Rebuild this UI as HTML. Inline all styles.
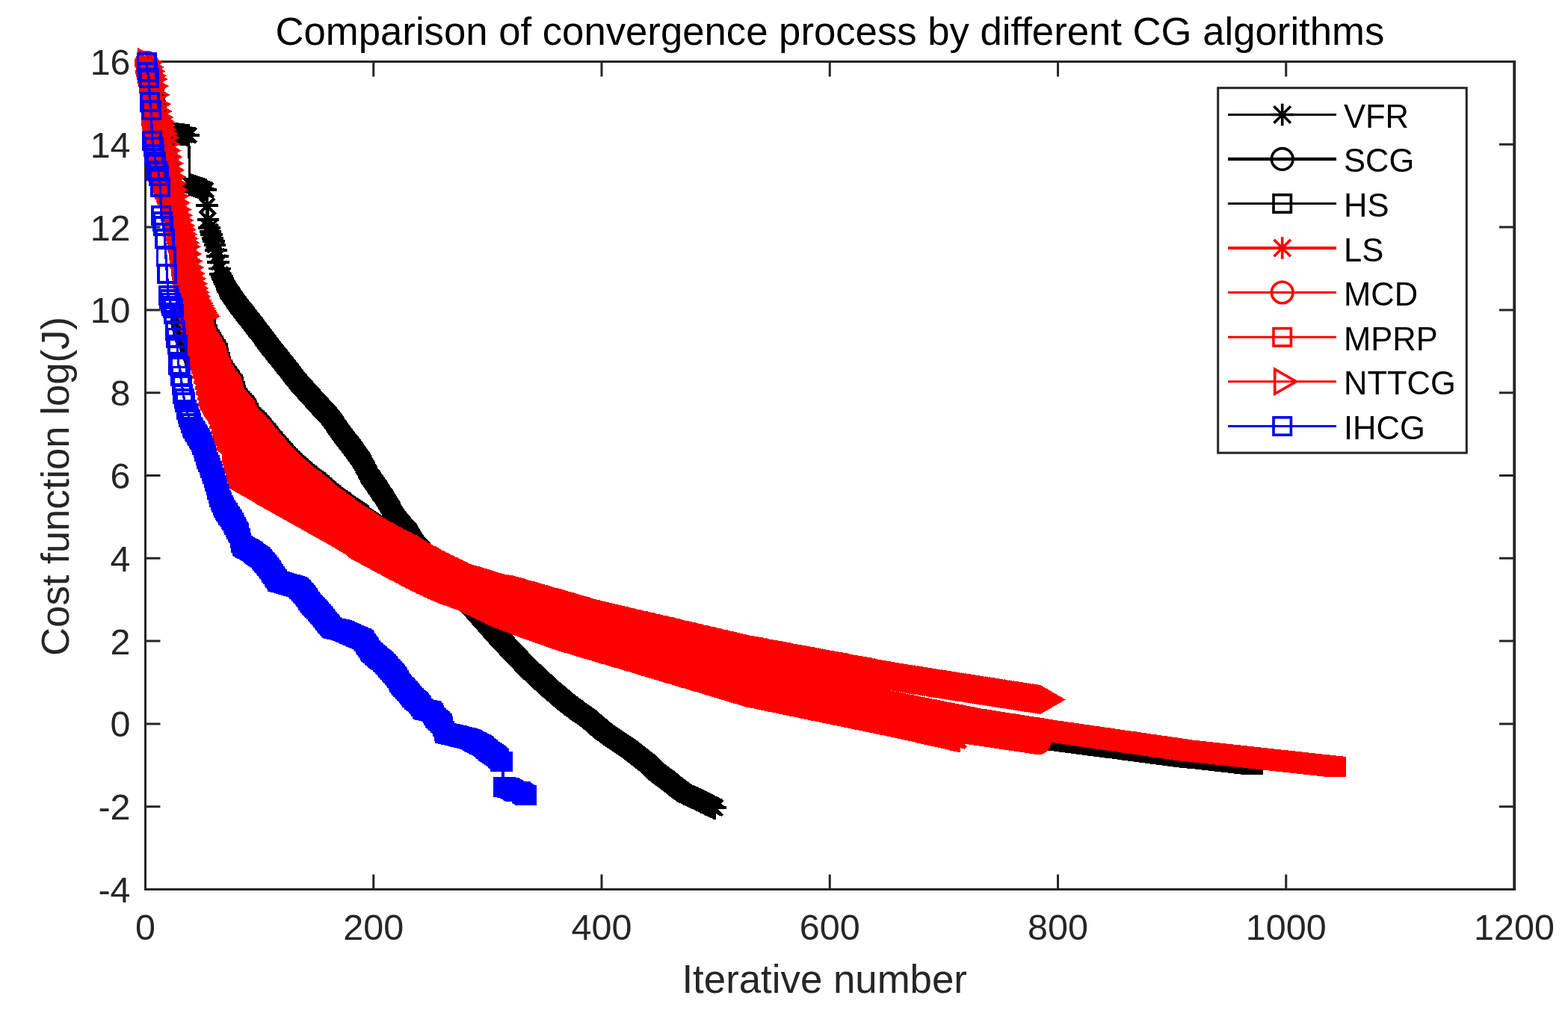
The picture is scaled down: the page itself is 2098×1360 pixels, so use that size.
<!DOCTYPE html>
<html lang="en"><head><meta charset="utf-8"><title>Comparison of convergence process by different CG algorithms</title>
<style>html,body{margin:0;padding:0;background:#fff;overflow:hidden}svg{display:block}text{font-family:"Liberation Sans",sans-serif}</style>
</head><body>
<svg width="2098" height="1360" viewBox="0 0 2098 1360">
<rect width="2098" height="1360" fill="#fff"/>
<g stroke="#262626" stroke-width="3" fill="none" stroke-linecap="butt">
<rect x="194.5" y="82.5" width="1831.5" height="1108.0"/>
<path d="M499.75 1190.5v-20M499.75 82.5v20M805.0 1190.5v-20M805.0 82.5v20M1110.25 1190.5v-20M1110.25 82.5v20M1415.5 1190.5v-20M1415.5 82.5v20M1720.75 1190.5v-20M1720.75 82.5v20M194.5 1079.7h20M2026.0 1079.7h-20M194.5 968.9h20M2026.0 968.9h-20M194.5 858.1h20M2026.0 858.1h-20M194.5 747.3h20M2026.0 747.3h-20M194.5 636.5h20M2026.0 636.5h-20M194.5 525.7h20M2026.0 525.7h-20M194.5 414.9h20M2026.0 414.9h-20M194.5 304.1h20M2026.0 304.1h-20M194.5 193.3h20M2026.0 193.3h-20"/>
<path d="M2026.4 81.0V1192.0" stroke-width="3.6"/>
</g>
<defs>
<marker id="mVFR" markerUnits="userSpaceOnUse" markerWidth="60" markerHeight="60" viewBox="-30 -30 60 60" refX="0" refY="0" orient="0" overflow="visible" shape-rendering="crispEdges"><path d="M-14.8 0H14.8M0 -14.8V14.8M-9.834999999999999 -9.834999999999999L9.834999999999999 9.834999999999999M-9.834999999999999 9.834999999999999L9.834999999999999 -9.834999999999999" stroke="#000" stroke-width="3.9" fill="none"/></marker>
<marker id="mVFRb" markerUnits="userSpaceOnUse" markerWidth="60" markerHeight="60" viewBox="-30 -30 60 60" refX="0" refY="0" orient="0" overflow="visible" shape-rendering="crispEdges"><path d="M-15.700000000000001 0H15.700000000000001M0 -15.700000000000001V15.700000000000001M-10.735 -10.735L10.735 10.735M-10.735 10.735L10.735 -10.735" stroke="#000" stroke-width="3.9" fill="none"/></marker>
<marker id="mSCG" markerUnits="userSpaceOnUse" markerWidth="60" markerHeight="60" viewBox="-30 -30 60 60" refX="0" refY="0" orient="0" overflow="visible" shape-rendering="crispEdges"><circle r="13.95" stroke="#000" stroke-width="4.6" fill="none"/></marker>
<marker id="mHS" markerUnits="userSpaceOnUse" markerWidth="60" markerHeight="60" viewBox="-30 -30 60 60" refX="0" refY="0" orient="0" overflow="visible" shape-rendering="crispEdges"><rect x="-11.55" y="-11.55" width="23.1" height="23.1" stroke="#000" stroke-width="3.9" fill="none"/></marker>
<marker id="mLS" markerUnits="userSpaceOnUse" markerWidth="60" markerHeight="60" viewBox="-30 -30 60 60" refX="0" refY="0" orient="0" overflow="visible" shape-rendering="crispEdges"><path d="M-14.8 0H14.8M0 -14.8V14.8M-9.695 -9.695L9.695 9.695M-9.695 9.695L9.695 -9.695" stroke="#f00" stroke-width="4.3" fill="none"/></marker>
<marker id="mMCD" markerUnits="userSpaceOnUse" markerWidth="60" markerHeight="60" viewBox="-30 -30 60 60" refX="0" refY="0" orient="0" overflow="visible" shape-rendering="crispEdges"><circle r="14.3" stroke="#f00" stroke-width="3.9" fill="none"/></marker>
<marker id="mMPRP" markerUnits="userSpaceOnUse" markerWidth="60" markerHeight="60" viewBox="-30 -30 60 60" refX="0" refY="0" orient="0" overflow="visible" shape-rendering="crispEdges"><rect x="-11.55" y="-11.55" width="23.1" height="23.1" stroke="#f00" stroke-width="3.9" fill="none"/></marker>
<marker id="mNT" markerUnits="userSpaceOnUse" markerWidth="60" markerHeight="60" viewBox="-30 -30 60 60" refX="0" refY="0" orient="0" overflow="visible" shape-rendering="crispEdges"><path d="M-10 -16.5L18.6 0L-10 16.5Z" stroke="#f00" stroke-width="3.9" fill="none"/></marker>
<marker id="mIH" markerUnits="userSpaceOnUse" markerWidth="60" markerHeight="60" viewBox="-30 -30 60 60" refX="0" refY="0" orient="0" overflow="visible" shape-rendering="crispEdges"><rect x="-11.55" y="-11.55" width="23.1" height="23.1" stroke="#00f" stroke-width="3.9" fill="none"/></marker>
</defs>
<g shape-rendering="crispEdges">
<polyline points="196.0,83.5 197.6,89.5 199.1,95.4 200.6,100.7 202.1,106.0 203.7,116.5 205.2,127.0 206.7,138.0 208.2,149.0 209.8,157.1 211.3,162.7 212.8,168.4 214.3,174.0 215.9,178.0 217.4,178.1 218.9,178.1 220.4,178.2 222.0,178.2 223.5,178.2 225.0,178.3 226.6,178.3 228.1,178.4 229.6,178.4 231.1,178.5 232.7,178.7 234.2,178.9 235.7,179.0 237.2,179.2 238.8,179.4 240.3,179.6 241.8,179.8 243.3,179.9 244.9,180.1 246.4,180.3 247.9,180.5 249.4,180.6 251.0,180.8 252.5,181.0 254.0,246.9 255.6,247.4 257.1,247.9 258.6,248.4 260.1,249.0 261.7,249.5 263.2,250.0 264.7,250.5 266.2,251.0 267.8,251.5 269.3,252.0 270.8,252.6 272.3,253.1 273.9,253.6 275.4,254.1 276.9,275.4 278.4,294.0 280.0,305.0 281.5,309.8 283.0,314.4 284.5,318.9 286.1,323.4 287.6,328.0 289.1,334.6 290.7,342.8 292.2,351.4 293.7,359.5 295.2,367.2 296.8,370.0 298.3,373.3 299.8,376.7 301.3,380.1 302.9,383.5 304.4,386.9" fill="none" stroke="#000" stroke-width="3.4" stroke-linejoin="round" marker-start="url(#mVFR)" marker-mid="url(#mVFR)" marker-end="url(#mVFR)"/>
<polyline points="304.4,386.9 305.9,389.7 307.4,391.9 309.0,394.1 310.5,396.3 312.0,398.5 313.5,400.7 315.1,402.9 316.6,405.1 318.1,407.3 319.7,409.3 321.2,411.2 322.7,413.2 324.2,415.1 325.8,417.1 327.3,419.1 328.8,421.0 330.3,423.0 331.9,424.9 333.4,426.9 334.9,428.9 336.4,430.8 338.0,432.8 339.5,434.8 341.0,436.7 342.5,438.7 344.1,440.7 345.6,442.6 347.1,444.6 348.7,446.6 350.2,448.7 351.7,450.7 353.2,452.8 354.8,454.8 356.3,456.9 357.8,458.9 359.3,461.0 360.9,463.0 362.4,465.0 363.9,467.0 365.4,468.9 367.0,470.8 368.5,472.7 370.0,474.6 371.5,476.5 373.1,478.4 374.6,480.3 376.1,482.2 377.6,484.1 379.2,486.1 380.7,488.0 382.2,489.9 383.8,491.9 385.3,493.8 386.8,495.8 388.3,497.7 389.9,499.7 391.4,501.6 392.9,503.6 394.4,505.5 396.0,507.5 397.5,509.4 399.0,511.4 400.5,513.3 402.1,515.0 403.6,516.7 405.1,518.3 406.6,520.0 408.2,521.7 409.7,523.3 411.2,525.0 412.8,526.7 414.3,528.4 415.8,530.0 417.3,531.7 418.9,533.4 420.4,535.0 421.9,536.7 423.4,538.4 425.0,540.0 426.5,541.7 428.0,543.4 429.5,545.1 431.1,546.7 432.6,548.4 434.1,550.1 435.6,551.7 437.2,553.4 438.7,555.1 440.2,556.7 441.8,558.4 443.3,560.1 444.8,562.4 446.3,564.7 447.9,566.9 449.4,569.2 450.9,571.5 452.4,573.8 454.0,576.1 455.5,578.3 457.0,580.4 458.5,582.4 460.1,584.3 461.6,586.3 463.1,588.2 464.6,590.2 466.2,592.1 467.7,594.1 469.2,596.1 470.8,598.0 472.3,600.1 473.8,602.2 475.3,604.4 476.9,606.5 478.4,608.6 479.9,610.7 481.4,612.9 483.0,615.0 484.5,617.1 486.0,620.0 487.5,623.1 489.1,626.2 490.6,629.2 492.1,632.3 493.6,635.4 495.2,637.9 496.7,640.1 498.2,642.2 499.8,644.4 501.3,646.6 502.8,648.8 504.3,650.9 505.9,653.1 507.4,655.3 508.9,657.7 510.4,660.1 512.0,662.5 513.5,664.9 515.0,667.3 516.5,669.7 518.1,672.1 519.6,674.5 521.1,677.2 522.6,679.9 524.2,682.5 525.7,685.2 527.2,687.9 528.7,690.6 530.3,693.2 531.8,695.2 533.3,696.9 534.9,698.7 536.4,700.4 537.9,702.1 539.4,703.9 541.0,705.6 542.5,707.4 544.0,709.1 545.5,710.9 547.1,712.6 548.6,715.1 550.1,717.8 551.6,720.4 553.2,723.1 554.7,725.8 556.2,727.7 557.7,729.4 559.3,731.1 560.8,732.8 562.3,734.6 563.9,736.3 565.4,738.0 566.9,739.7 568.4,741.5 570.0,743.2 571.5,744.9 573.0,746.6 574.5,748.3 576.1,750.1 577.6,751.8 579.1,753.5 580.6,755.2 582.2,757.0 583.7,758.7 585.2,760.4 586.7,762.1 588.3,763.8 589.8,765.6 591.3,767.3 592.9,769.0 594.4,770.7 595.9,772.5 597.4,774.2 599.0,775.9 600.5,777.6 602.0,779.3 603.5,781.1 605.1,782.8 606.6,784.5 608.1,786.2 609.6,787.9 611.2,789.7 612.7,791.4 614.2,793.1 615.7,794.8 617.3,796.6 618.8,798.3 620.3,800.0 621.9,801.7 623.4,803.4 624.9,805.2 626.4,806.9 628.0,808.6 629.5,810.3 631.0,812.1 632.5,813.8 634.1,815.5 635.6,817.2 637.1,818.9 638.6,820.7 640.2,822.4 641.7,824.1 643.2,825.8 644.7,827.6 646.3,829.3 647.8,831.0 649.3,832.7 650.8,834.4 652.4,836.2 653.9,837.9 655.4,839.6 657.0,841.3 658.5,843.1 660.0,844.8 661.5,846.5 663.1,848.2 664.6,849.9 666.1,851.7 667.6,853.4 669.2,855.1 670.7,856.7 672.2,858.4 673.7,860.0 675.3,861.6 676.8,863.2 678.3,864.8 679.8,866.4 681.4,868.0 682.9,869.6 684.4,871.2 686.0,872.8 687.5,874.4 689.0,876.0 690.5,877.6 692.1,879.2 693.6,880.8 695.1,882.4 696.6,884.1 698.2,885.7 699.7,887.3 701.2,888.9 702.7,890.5 704.3,892.1 705.8,893.7 707.3,895.1 708.8,896.5 710.4,898.0 711.9,899.4 713.4,900.8 715.0,902.2 716.5,903.7 718.0,905.1 719.5,906.5 721.1,907.9 722.6,909.3 724.1,910.8 725.6,912.2 727.2,913.6 728.7,915.0 730.2,916.4 731.7,917.9 733.3,919.3 734.8,920.7 736.3,922.0 737.8,923.3 739.4,924.6 740.9,925.9 742.4,927.2 744.0,928.5 745.5,929.8 747.0,931.1 748.5,932.4 750.1,933.7 751.6,935.0 753.1,936.3 754.6,937.6 756.2,938.9 757.7,940.2 759.2,941.4 760.7,942.5 762.3,943.7 763.8,944.8 765.3,945.9 766.8,947.0 768.4,948.2 769.9,949.3 771.4,950.4 772.9,951.5 774.5,952.6 776.0,953.7 777.5,954.8 779.1,955.9 780.6,956.9 782.1,958.0 783.6,959.1 785.2,960.2 786.7,961.3 788.2,962.4 789.7,963.6 791.3,964.9 792.8,966.3 794.3,967.6 795.8,968.9 797.4,970.3 798.9,971.6 800.4,973.0 801.9,974.3 803.5,975.6 805.0,977.0 806.5,978.3 808.1,979.5 809.6,980.5 811.1,981.6 812.6,982.7 814.2,983.7 815.7,984.8 817.2,985.9 818.7,986.9 820.3,988.0 821.8,989.1 823.3,990.1 824.8,991.1 826.4,992.1 827.9,993.2 829.4,994.2 830.9,995.2 832.5,996.2 834.0,997.2 835.5,998.2 837.1,999.2 838.6,1000.3 840.1,1001.3 841.6,1002.3 843.2,1003.4 844.7,1004.6 846.2,1005.8 847.7,1007.0 849.3,1008.2 850.8,1009.4 852.3,1010.6 853.8,1011.8 855.4,1013.0 856.9,1014.2 858.4,1015.4 859.9,1016.6 861.5,1017.8 863.0,1019.0 864.5,1020.2 866.1,1021.4 867.6,1022.7 869.1,1024.3 870.6,1025.9 872.2,1027.5 873.7,1029.1 875.2,1030.7 876.7,1032.0 878.3,1033.2 879.8,1034.3 881.3,1035.4 882.8,1036.6 884.4,1037.7 885.9,1038.9 887.4,1040.0 888.9,1041.1 890.5,1042.3 892.0,1043.4 893.5,1044.6 895.0,1045.8 896.6,1047.0 898.1,1048.2 899.6,1049.5 901.2,1050.7 902.7,1051.9 904.2,1053.1 905.7,1054.3 907.3,1055.4 908.8,1056.5 910.3,1057.7 911.8,1058.8 913.4,1059.9 914.9,1061.1 916.4,1062.0 917.9,1062.7 919.5,1063.4 921.0,1064.1 922.5,1064.9 924.0,1065.6 925.6,1066.3 927.1,1067.0 928.6,1067.7 930.2,1068.4 931.7,1069.1 933.2,1069.8 934.7,1070.5 936.3,1071.2 937.8,1071.9 939.3,1072.7 940.8,1073.5 942.4,1074.2 943.9,1075.0 945.4,1075.8 946.9,1076.6 948.5,1077.4 950.0,1078.2 951.5,1078.9 953.0,1079.7 954.6,1080.5 956.1,1081.3" fill="none" stroke="#000" stroke-width="3.4" stroke-linejoin="round" marker-start="url(#mVFRb)" marker-mid="url(#mVFRb)" marker-end="url(#mVFRb)"/>
<polyline points="196.0,84.0 197.6,96.0 199.1,102.8 200.6,110.2 202.1,121.0 203.7,142.5 205.2,160.0 206.7,165.8 208.2,171.7 209.8,177.5 211.3,183.0 212.8,188.5 214.3,194.0 215.9,199.5 217.4,205.0 218.9,212.0 220.4,218.9 222.0,225.9 223.5,232.8 225.0,239.8 226.6,247.3 228.1,254.9 229.6,262.8 231.1,270.6 232.7,278.5 234.2,287.0 235.7,296.2 237.2,305.5 238.8,314.6 240.3,323.5 241.8,332.4 243.3,341.3 244.9,349.7 246.4,357.3 247.9,365.0 249.4,372.7 251.0,380.3 252.5,388.0 254.0,395.7 255.6,402.1 257.1,407.2 258.6,412.2 260.1,417.3 261.7,422.4 263.2,427.5 264.7,431.4 266.2,435.3 267.8,439.2 269.3,443.2 270.8,447.1 272.3,451.0 273.9,459.4 275.4,465.5 276.9,470.7 278.4,474.7 280.0,478.8 281.5,482.9 283.0,486.9 284.5,491.0 286.1,495.0 287.6,498.5 289.1,502.1 290.7,507.0 292.2,512.3 293.7,517.5 295.2,522.0 296.8,525.3 298.3,528.7 299.8,532.0 301.3,535.4 302.9,538.7 304.4,542.1 305.9,545.4 307.4,548.8 309.0,552.1 310.5,556.0 312.0,561.1 313.5,566.1 315.1,570.3 316.6,573.4 318.1,575.8 319.7,578.1 321.2,580.4 322.7,582.8 324.2,585.1 325.8,587.5 327.3,589.8 328.8,592.8 330.3,596.1 331.9,599.4 333.4,601.2 334.9,602.8 336.4,604.4 338.0,606.0 339.5,607.6 341.0,609.2 342.5,610.8 344.1,612.4 345.6,614.1 347.1,615.8 348.7,617.6 350.2,619.3 351.7,620.7 353.2,622.0 354.8,623.4 356.3,624.7 357.8,626.1 359.3,627.4 360.9,628.8 362.4,630.1 363.9,631.4 365.4,632.8 367.0,634.1 368.5,635.4 370.0,636.8 371.5,638.1 373.1,639.4 374.6,640.8 376.1,642.0 377.6,643.2 379.2,644.4 380.7,645.5 382.2,646.7 383.8,647.9 385.3,649.1 386.8,650.3 388.3,651.5 389.9,652.7 391.4,653.9 392.9,655.0 394.4,656.1 396.0,657.2 397.5,658.3 399.0,659.4 400.5,660.5 402.1,661.6 403.6,662.8 405.1,663.9 406.6,664.9 408.2,665.9 409.7,666.9 411.2,667.8 412.8,668.8 414.3,669.8 415.8,670.8 417.3,671.8 418.9,672.8 420.4,673.7 421.9,674.7 423.4,675.9 425.0,677.0 426.5,678.1 428.0,679.2 429.5,680.3 431.1,681.5 432.6,682.6 434.1,683.7 435.6,684.8 437.2,685.9 438.7,686.9 440.2,687.9 441.8,688.9 443.3,689.8 444.8,690.8 446.3,691.8 447.9,692.8 449.4,693.8 450.9,694.8 452.4,695.8 454.0,696.8 455.5,697.9 457.0,698.9 458.5,699.9 460.1,700.9 461.6,701.9 463.1,703.0 464.6,704.0 466.2,705.0 467.7,705.9 469.2,706.9 470.8,707.9 472.3,708.8 473.8,709.8 475.3,710.7 476.9,711.7 478.4,712.7 479.9,713.6 481.4,714.6 483.0,715.6 484.5,716.6 486.0,717.5 487.5,718.5 489.1,719.5 490.6,720.4 492.1,721.4 493.6,722.4 495.2,723.3 496.7,724.2 498.2,725.0 499.8,725.9 501.3,726.7 502.8,727.6 504.3,728.4 505.9,729.2 507.4,730.0 508.9,730.8 510.4,731.6 512.0,732.4 513.5,733.2 515.0,734.1 516.5,734.9 518.1,735.7 519.6,736.5 521.1,737.3 522.6,738.1 524.2,738.9 525.7,739.7 527.2,740.4 528.7,741.2 530.3,741.9 531.8,742.7 533.3,743.5 534.9,744.2 536.4,745.0 537.9,745.8 539.4,746.5 541.0,747.3 542.5,748.1 544.0,748.9 545.5,749.8 547.1,750.6 548.6,751.5 550.1,752.3 551.6,753.1 553.2,753.9 554.7,754.7 556.2,755.4 557.7,756.2 559.3,757.0 560.8,757.8 562.3,758.6 563.9,759.3 565.4,760.1 566.9,760.8 568.4,761.6 570.0,762.4 571.5,763.1 573.0,763.9 574.5,764.6 576.1,765.4 577.6,766.2 579.1,766.9 580.6,767.7 582.2,768.4 583.7,769.1 585.2,769.8 586.7,770.5 588.3,771.2 589.8,771.9 591.3,772.7 592.9,773.4 594.4,774.1 595.9,774.8 597.4,775.5 599.0,776.2 600.5,776.9 602.0,777.6 603.5,778.3 605.1,779.0 606.6,779.7 608.1,780.4 609.6,781.1 611.2,781.8 612.7,782.5 614.2,783.2 615.7,783.8 617.3,784.5 618.8,785.0 620.3,785.5 621.9,786.1 623.4,786.6 624.9,787.1 626.4,787.7 628.0,788.2 629.5,788.7 631.0,789.3 632.5,789.8 634.1,790.3 635.6,790.9 637.1,791.5 638.6,792.0 640.2,792.6 641.7,793.1 643.2,793.7 644.7,794.2 646.3,794.8 647.8,795.4 649.3,795.9 650.8,796.5 652.4,797.0 653.9,797.6 655.4,798.1 657.0,798.7 658.5,799.3 660.0,799.8 661.5,800.3 663.1,800.8 664.6,801.3 666.1,801.8 667.6,802.4 669.2,802.9 670.7,803.4 672.2,803.9 673.7,804.4 675.3,804.9 676.8,805.4 678.3,805.9 679.8,806.4 681.4,806.9 682.9,807.4 684.4,808.0 686.0,808.5 687.5,809.0 689.0,809.5 690.5,810.0 692.1,810.5 693.6,811.0 695.1,811.5 696.6,812.0 698.2,812.5 699.7,813.0 701.2,813.6 702.7,814.1 704.3,814.6 705.8,815.2 707.3,815.7 708.8,816.3 710.4,816.8 711.9,817.3 713.4,817.9 715.0,818.4 716.5,819.0 718.0,819.5 719.5,820.0 721.1,820.6 722.6,821.1 724.1,821.7 725.6,822.2 727.2,822.7 728.7,823.3 730.2,823.8 731.7,824.4 733.3,824.9 734.8,825.4 736.3,826.0 737.8,826.5 739.4,827.1 740.9,827.6 742.4,828.1 744.0,828.7 745.5,829.2 747.0,829.7 748.5,830.2 750.1,830.7 751.6,831.2 753.1,831.7 754.6,832.2 756.2,832.7 757.7,833.2 759.2,833.6 760.7,834.1 762.3,834.6 763.8,835.1 765.3,835.6 766.8,836.1 768.4,836.6 769.9,837.1 771.4,837.6 772.9,838.1 774.5,838.6 776.0,839.1 777.5,839.6 779.1,840.1 780.6,840.6 782.1,841.1 783.6,841.6 785.2,842.1 786.7,842.6 788.2,843.1 789.7,843.6 791.3,844.1 792.8,844.6 794.3,845.1 795.8,845.6 797.4,846.1 798.9,846.5 800.4,847.0 801.9,847.5 803.5,847.9 805.0,848.4 806.5,848.8 808.1,849.2 809.6,849.7 811.1,850.1 812.6,850.6 814.2,851.0 815.7,851.5 817.2,851.9 818.7,852.3 820.3,852.8 821.8,853.2 823.3,853.7 824.8,854.1 826.4,854.6 827.9,855.0 829.4,855.4 830.9,855.9 832.5,856.3 834.0,856.8 835.5,857.2 837.1,857.7 838.6,858.1 840.1,858.5 841.6,859.0 843.2,859.4 844.7,859.9 846.2,860.3 847.7,860.8 849.3,861.2 850.8,861.6 852.3,862.1 853.8,862.5 855.4,863.0 856.9,863.4 858.4,863.9 859.9,864.3 861.5,864.7 863.0,865.2 864.5,865.6 866.1,866.1 867.6,866.5 869.1,867.0 870.6,867.4 872.2,867.8 873.7,868.3 875.2,868.7 876.7,869.2 878.3,869.6 879.8,870.1 881.3,870.5 882.8,870.9 884.4,871.4 885.9,871.8 887.4,872.3 888.9,872.7 890.5,873.2 892.0,873.6 893.5,874.0 895.0,874.5 896.6,874.9 898.1,875.4 899.6,875.8 901.2,876.3 902.7,876.7 904.2,877.1 905.7,877.6 907.3,878.0 908.8,878.4 910.3,878.9 911.8,879.3 913.4,879.8 914.9,880.2 916.4,880.6 917.9,881.1 919.5,881.5 921.0,881.9 922.5,882.4 924.0,882.8 925.6,883.3 927.1,883.7 928.6,884.1 930.2,884.6 931.7,885.0 933.2,885.5 934.7,885.9 936.3,886.3 937.8,886.8 939.3,887.2 940.8,887.6 942.4,888.1 943.9,888.5 945.4,889.0 946.9,889.4 948.5,889.8 950.0,890.3 951.5,890.7 953.0,891.1 954.6,891.6 956.1,892.0 957.6,892.5 959.2,892.9 960.7,893.3 962.2,893.8 963.7,894.2 965.3,894.6 966.8,895.1 968.3,895.5 969.8,896.0 971.4,896.4 972.9,896.8 974.4,897.3 975.9,897.7 977.5,898.1 979.0,898.6 980.5,899.0 982.0,899.5 983.6,899.9 985.1,900.3 986.6,900.8 988.2,901.2 989.7,901.7 991.2,902.1 992.7,902.5 994.3,903.0 995.8,903.4 997.3,903.8 998.8,904.3 1000.4,904.7 1001.9,905.1 1003.4,905.4 1004.9,905.8 1006.5,906.2 1008.0,906.5 1009.5,906.9 1011.0,907.3 1012.6,907.7 1014.1,908.0 1015.6,908.4 1017.1,908.8 1018.7,909.1 1020.2,909.5 1021.7,909.9 1023.3,910.2 1024.8,910.6 1026.3,911.0 1027.8,911.3 1029.4,911.7 1030.9,912.1 1032.4,912.5 1033.9,912.8 1035.5,913.2 1037.0,913.6 1038.5,913.9 1040.0,914.3 1041.6,914.7 1043.1,915.0 1044.6,915.4 1046.1,915.8 1047.7,916.1 1049.2,916.5 1050.7,916.9 1052.3,917.3 1053.8,917.6 1055.3,918.0 1056.8,918.4 1058.4,918.7 1059.9,919.1 1061.4,919.5 1062.9,919.8 1064.5,920.2 1066.0,920.6 1067.5,920.9 1069.0,921.3 1070.6,921.7 1072.1,922.1 1073.6,922.4 1075.1,922.8 1076.7,923.2 1078.2,923.5 1079.7,923.9 1081.3,924.3 1082.8,924.6 1084.3,925.0 1085.8,925.4 1087.4,925.8 1088.9,926.1 1090.4,926.5 1091.9,926.9 1093.5,927.2 1095.0,927.6 1096.5,928.0 1098.0,928.3 1099.6,928.7 1101.1,929.1 1102.6,929.4 1104.1,929.8 1105.7,930.2 1107.2,930.5 1108.7,930.9 1110.2,931.3 1111.8,931.6 1113.3,932.0 1114.8,932.4 1116.4,932.7 1117.9,933.1 1119.4,933.5 1120.9,933.8 1122.5,934.2 1124.0,934.5 1125.5,934.9 1127.0,935.3 1128.6,935.6 1130.1,936.0 1131.6,936.4 1133.1,936.7 1134.7,937.1 1136.2,937.5 1137.7,937.8 1139.2,938.2 1140.8,938.6 1142.3,938.9 1143.8,939.3 1145.4,939.7 1146.9,940.0 1148.4,940.4 1149.9,940.8 1151.5,941.1 1153.0,941.5 1154.5,941.8 1156.0,942.2 1157.6,942.6 1159.1,942.9 1160.6,943.3 1162.1,943.7 1163.7,944.0 1165.2,944.4 1166.7,944.8 1168.2,945.1 1169.8,945.5 1171.3,945.9 1172.8,946.2 1174.4,946.6 1175.9,947.0 1177.4,947.3 1178.9,947.7 1180.5,948.1 1182.0,948.4 1183.5,948.8 1185.0,949.1 1186.6,949.4 1188.1,949.7 1189.6,950.1 1191.1,950.4 1192.7,950.7 1194.2,951.0 1195.7,951.3 1197.2,951.7 1198.8,952.0 1200.3,952.3 1201.8,952.6 1203.4,952.8 1204.9,953.1 1206.4,953.4 1207.9,953.7 1209.5,954.0 1211.0,954.3 1212.5,954.6 1214.0,954.9 1215.6,955.2 1217.1,955.5 1218.6,955.8 1220.1,956.1 1221.7,956.3 1223.2,956.6 1224.7,956.9 1226.2,957.2 1227.8,957.5 1229.3,957.8 1230.8,958.1 1232.4,958.4 1233.9,958.7 1235.4,959.0 1236.9,959.3 1238.5,959.6 1240.0,959.8 1241.5,960.1 1243.0,960.4 1244.6,960.7 1246.1,961.0 1247.6,961.3 1249.1,961.6 1250.7,961.9 1252.2,962.2 1253.7,962.5 1255.2,962.8 1256.8,963.1 1258.3,963.3 1259.8,963.6 1261.3,963.9 1262.9,964.2" fill="none" stroke="#000" stroke-width="4.5" stroke-linejoin="round" marker-start="url(#mSCG)" marker-mid="url(#mSCG)" marker-end="url(#mSCG)"/>
<polyline points="196.0,84.0 197.6,95.0 199.1,103.0 200.6,112.5 202.1,122.0 203.7,140.0 205.2,155.0 206.7,161.7 208.2,168.3 209.8,175.0 211.3,181.0 212.8,187.0 214.3,193.0 215.9,199.0 217.4,205.0 218.9,212.0 220.4,219.0 222.0,226.0 223.5,233.0 225.0,240.0 226.6,248.0 228.1,256.0 229.6,264.0 231.1,272.0 232.7,280.0 234.2,287.0 235.7,294.0 237.2,301.0 238.8,308.0 240.3,315.0 241.8,322.0 243.3,329.0 244.9,336.0 246.4,343.0 247.9,350.0 249.4,357.0 251.0,364.0 252.5,371.0 254.0,378.0 255.6,385.0 257.1,390.0 258.6,395.0 260.1,400.0 261.7,405.0 263.2,410.0 264.7,413.7 266.2,417.3 267.8,421.0 269.3,424.7 270.8,428.3 272.3,430.8 275.9,440.9 277.4,447.6 278.9,452.3 280.4,454.9 282.0,457.4 283.5,460.0 285.0,462.5 286.5,465.1 288.1,467.6 289.6,470.2 291.1,472.7 292.7,478.1 294.2,484.2 295.7,490.2 297.2,494.6 298.8,496.8 300.3,499.0 301.8,501.2 303.3,503.4 304.9,505.6 306.4,507.7 307.9,509.9 309.4,512.1 311.0,514.3 312.5,517.6 314.0,523.2 315.5,528.9 317.1,532.7 318.6,534.4 320.1,536.1 321.7,537.8 323.2,539.5 324.7,541.2 326.2,542.9 327.8,544.6 329.3,546.2 330.8,549.3 332.3,552.9 333.9,556.4 335.4,558.3 336.9,559.8 338.4,561.3 340.0,562.9 341.5,564.4 343.0,565.9 344.5,567.4 346.1,569.0 347.6,570.6 349.1,572.4 350.7,574.3 352.2,576.1 353.7,578.0 355.2,579.9 356.8,581.7 358.3,583.6 359.8,585.4 361.3,587.3 362.9,589.1 364.4,590.9 365.9,592.7 367.4,594.5 369.0,596.3 370.5,598.1 372.0,599.9 373.5,601.8 375.1,603.6 376.6,605.4 378.1,606.9 379.6,608.5 381.2,610.0 382.7,611.5 384.2,613.0 385.8,614.6 387.3,616.1 388.8,617.6 390.3,619.1 391.9,620.7 393.4,622.1 394.9,623.5 396.4,624.9 398.0,626.2 399.5,627.6 401.0,629.0 402.5,630.4 404.1,631.7 405.6,633.1 407.1,634.5 408.6,635.7 410.2,636.8 411.7,637.9 413.2,639.0 414.8,640.1 416.3,641.2 417.8,642.3 419.3,643.4 420.9,644.6 422.4,645.7 423.9,646.8 425.4,648.2 427.0,649.6 428.5,651.0 430.0,652.4 431.5,653.8 433.1,655.1 434.6,656.5 436.1,657.9 437.6,659.3 439.2,660.6 440.7,661.7 442.2,662.8 443.8,663.9 445.3,665.1 446.8,666.2 448.3,667.3 449.9,668.4 451.4,669.5 452.9,670.7 454.4,671.8 456.0,672.9 457.5,674.0 459.0,675.1 460.5,676.3 462.1,677.4 463.6,678.5 465.1,679.6 466.6,680.8 468.2,681.8 469.7,682.8 471.2,683.8 472.8,684.9 474.3,685.9 475.8,686.9 477.3,687.9 478.9,688.9 480.4,689.9 479.9,691.0 481.4,692.1 483.0,693.2 484.5,694.3 486.0,695.4 487.5,696.5 489.1,697.6 490.6,698.7 492.1,699.8 493.6,700.9 495.2,701.8 496.7,702.8 498.2,703.7 499.8,704.6 501.3,705.6 502.8,706.5 504.3,707.4 505.9,708.3 507.4,709.3 508.9,710.2 510.4,711.1 512.0,712.1 513.5,713.0 515.0,714.0 516.5,714.9 518.1,715.8 519.6,716.8 521.1,717.7 522.6,718.6 524.2,719.5 525.7,720.3 527.2,721.2 528.7,722.0 530.3,722.8 531.8,723.7 533.3,724.5 534.9,725.4 536.4,726.2 537.9,727.0 539.4,727.9 541.0,728.7 542.5,729.6 544.0,730.6 545.5,731.6 547.1,732.6 548.6,733.6 550.1,734.5 551.6,735.5 553.2,736.5 554.7,737.5 556.2,738.5 557.7,739.4 559.3,740.4 560.8,741.4 562.3,742.3 563.9,743.2 565.4,744.2 566.9,745.1 568.4,746.0 570.0,746.9 571.5,747.8 573.0,748.8 574.5,749.7 576.1,750.6 577.6,751.5 579.1,752.4 580.6,753.3 582.2,754.1 583.7,755.0 585.2,755.8 586.7,756.6 588.3,757.5 589.8,758.3 591.3,759.1 592.9,759.9 594.4,760.7 595.9,761.5 597.4,762.2 599.0,763.0 600.5,763.8 602.0,764.5 603.5,765.3 605.1,766.0 606.6,766.8 608.1,767.6 609.6,768.3 611.2,769.1 612.7,769.8 614.2,770.6 615.7,771.4 617.3,772.0 618.8,772.4 620.3,772.9 621.9,773.3 623.4,773.8 624.9,774.2 626.4,774.7 628.0,775.1 629.5,775.6 631.0,776.0 632.5,776.5 634.1,776.9 635.6,777.4 637.1,777.9 638.6,778.4 640.2,778.9 641.7,779.4 643.2,779.9 644.7,780.4 646.3,780.8 647.8,781.3 649.3,781.8 650.8,782.3 652.4,782.8 653.9,783.3 655.4,783.8 657.0,784.3 658.5,784.8 660.0,785.3 661.5,785.8 663.1,786.3 664.6,786.8 666.1,787.3 667.6,787.8 669.2,788.2 670.7,788.7 672.2,789.2 673.7,789.7 675.3,790.2 676.8,790.7 678.3,791.2 679.8,791.7 681.4,792.2 682.9,792.7 684.4,793.2 686.0,793.7 687.5,794.2 689.0,794.7 690.5,795.2 692.1,795.7 693.6,796.1 695.1,796.6 696.6,797.1 698.2,797.6 699.7,798.1 701.2,798.7 702.7,799.2 704.3,799.8 705.8,800.3 707.3,800.9 708.8,801.4 710.4,802.0 711.9,802.5 713.4,803.1 715.0,803.7 716.5,804.2 718.0,804.8 719.5,805.3 721.1,805.9 722.6,806.4 724.1,807.0 725.6,807.5 727.2,808.1 728.7,808.6 730.2,809.2 731.7,809.8 733.3,810.3 734.8,810.9 736.3,811.4 737.8,812.0 739.4,812.5 740.9,813.1 742.4,813.6 744.0,814.2 745.5,814.7 747.0,815.3 748.5,815.9 750.1,816.4 751.6,817.0 753.1,817.5 754.6,818.1 756.2,818.7 757.7,819.2 759.2,819.8 760.7,820.3 762.3,820.9 763.8,821.5 765.3,822.0 766.8,822.6 768.4,823.2 769.9,823.7 771.4,824.3 772.9,824.9 774.5,825.4 776.0,826.0 777.5,826.5 779.1,827.1 780.6,827.7 782.1,828.2 783.6,828.8 785.2,829.4 786.7,829.9 788.2,830.5 789.7,831.0 791.3,831.6 792.8,832.2 794.3,832.7 795.8,833.3 797.4,833.9 798.9,834.4 800.4,835.0 801.9,835.5 803.5,835.9 805.0,836.4 806.5,836.9 808.1,837.4 809.6,837.9 811.1,838.4 812.6,838.9 814.2,839.4 815.7,839.9 817.2,840.3 818.7,840.8 820.3,841.3 821.8,841.8 823.3,842.3 824.8,842.8 826.4,843.3 827.9,843.8 829.4,844.2 830.9,844.7 832.5,845.2 834.0,845.7 835.5,846.2 837.1,846.7 838.6,847.2 840.1,847.7 841.6,848.2 843.2,848.6 844.7,849.1 846.2,849.6 847.7,850.1 849.3,850.6 850.8,851.1 852.3,851.6 853.8,852.1 855.4,852.6 856.9,853.0 858.4,853.5 859.9,854.0 861.5,854.5 863.0,855.0 864.5,855.5 866.1,856.0 867.6,856.5 869.1,857.0 870.6,857.4 872.2,857.9 873.7,858.4 875.2,858.9 876.7,859.4 878.3,859.9 879.8,860.4 881.3,860.9 882.8,861.3 884.4,861.8 885.9,862.3 887.4,862.8 888.9,863.3 890.5,863.8 892.0,864.3 893.5,864.8 895.0,865.3 896.6,865.7 898.1,866.2 899.6,866.7 901.2,867.2 902.7,867.7 904.2,868.2 905.7,868.6 907.3,869.1 908.8,869.6 910.3,870.1 911.8,870.6 913.4,871.0 914.9,871.5 916.4,872.0 917.9,872.5 919.5,872.9 921.0,873.4 922.5,873.9 924.0,874.4 925.6,874.9 927.1,875.3 928.6,875.8 930.2,876.3 931.7,876.8 933.2,877.2 934.7,877.7 936.3,878.2 937.8,878.7 939.3,879.2 940.8,879.6 942.4,880.1 943.9,880.6 945.4,881.1 946.9,881.6 948.5,882.0 950.0,882.5 951.5,883.0 953.0,883.5 954.6,883.9 956.1,884.4 957.6,884.9 959.2,885.4 960.7,885.9 962.2,886.3 963.7,886.8 965.3,887.3 966.8,887.8 968.3,888.2 969.8,888.7 971.4,889.2 972.9,889.7 974.4,890.2 975.9,890.6 977.5,891.1 979.0,891.6 980.5,892.1 982.0,892.6 983.6,893.0 985.1,893.5 986.6,894.0 988.2,894.5 989.7,894.9 991.2,895.4 992.7,895.9 994.3,896.4 995.8,896.9 997.3,897.3 998.8,897.8 1000.4,898.3 1001.9,898.7 1003.4,899.1 1004.9,899.5 1006.5,899.9 1008.0,900.3 1009.5,900.8 1011.0,901.2 1012.6,901.6 1014.1,902.0 1015.6,902.4 1017.1,902.8 1018.7,903.2 1020.2,903.7 1021.7,904.1 1023.3,904.5 1024.8,904.9 1026.3,905.3 1027.8,905.7 1029.4,906.1 1030.9,906.6 1032.4,907.0 1033.9,907.4 1035.5,907.8 1037.0,908.2 1038.5,908.6 1040.0,909.0 1041.6,909.5 1043.1,909.9 1044.6,910.3 1046.1,910.7 1047.7,911.1 1049.2,911.5 1050.7,911.9 1052.3,912.4 1053.8,912.8 1055.3,913.2 1056.8,913.6 1058.4,914.0 1059.9,914.4 1061.4,914.8 1062.9,915.3 1064.5,915.7 1066.0,916.1 1067.5,916.5 1069.0,916.9 1070.6,917.3 1072.1,917.7 1073.6,918.2 1075.1,918.6 1076.7,919.0 1078.2,919.4 1079.7,919.8 1081.3,920.2 1082.8,920.6 1084.3,921.1 1085.8,921.5 1087.4,921.9 1088.9,922.3 1090.4,922.7 1091.9,923.1 1093.5,923.5 1095.0,924.0 1096.5,924.4 1098.0,924.8 1099.6,925.2 1101.1,925.6 1102.6,926.0 1104.1,926.4 1105.7,926.8 1107.2,927.2 1108.7,927.6 1110.2,928.0 1111.8,928.5 1113.3,928.9 1114.8,929.3 1116.4,929.7 1117.9,930.1 1119.4,930.5 1120.9,930.9 1122.5,931.3 1124.0,931.7 1125.5,932.1 1127.0,932.5 1128.6,932.9 1130.1,933.3 1131.6,933.7 1133.1,934.1 1134.7,934.5 1136.2,934.9 1137.7,935.3 1139.2,935.8 1140.8,936.2 1142.3,936.6 1143.8,937.0 1145.4,937.4 1146.9,937.8 1148.4,938.2 1149.9,938.6 1151.5,939.0 1153.0,939.4 1154.5,939.8 1156.0,940.2 1157.6,940.6 1159.1,941.0 1160.6,941.4 1162.1,941.8 1163.7,942.2 1165.2,942.6 1166.7,943.1 1168.2,943.5 1169.8,943.9 1171.3,944.3 1172.8,944.7 1174.4,945.1 1175.9,945.5 1177.4,945.9 1178.9,946.3 1180.5,946.7 1182.0,947.1 1183.5,947.5 1185.0,947.8 1186.6,948.1 1188.1,948.5 1189.6,948.8 1191.1,949.1 1192.7,949.4 1194.2,949.7 1195.7,950.0 1197.2,950.4 1198.8,950.7 1200.3,951.0 1201.8,951.3 1203.4,951.6 1204.9,951.9 1206.4,952.3 1207.9,952.6 1209.5,952.9 1211.0,953.2 1212.5,953.5 1214.0,953.8 1215.6,954.2 1217.1,954.5 1218.6,954.8 1220.1,955.1 1221.7,955.4 1223.2,955.7 1224.7,956.1 1226.2,956.4 1227.8,956.7 1229.3,957.0 1230.8,957.3 1232.4,957.6 1233.9,958.0 1235.4,958.3 1236.9,958.6 1238.5,958.9 1240.0,959.2 1241.5,959.5 1243.0,959.9 1244.6,960.2 1246.1,960.5 1247.6,960.8 1249.1,961.1 1250.7,961.4 1252.2,961.7 1253.7,962.1 1255.2,962.4 1256.8,962.7 1258.3,963.0 1259.8,963.3 1261.3,963.6 1262.9,964.0 1264.4,964.3 1265.9,964.6 1267.5,964.9 1269.0,965.3 1270.5,965.6 1272.0,965.9 1273.6,966.2 1275.1,966.5 1276.6,966.9 1278.1,967.2 1279.7,967.5 1281.2,967.8 1282.7,968.2 1284.2,968.5 1285.8,968.8 1287.3,969.1 1288.8,969.4 1290.3,969.8 1291.9,970.1 1293.4,970.4 1294.9,970.7 1296.5,971.0 1298.0,971.4 1299.5,971.7 1301.0,972.0 1302.6,972.2 1304.1,972.5 1305.6,972.8 1307.1,973.0 1308.7,973.3 1310.2,973.5 1311.7,973.8 1313.2,974.1 1314.8,974.3 1316.3,974.6 1317.8,974.8 1319.3,975.1 1320.9,975.4 1322.4,975.6 1323.9,975.9 1325.5,976.1 1327.0,976.4 1328.5,976.7 1330.0,976.9 1331.6,977.2 1333.1,977.4 1334.6,977.7 1336.1,978.0 1337.7,978.2 1339.2,978.5 1340.7,978.7 1342.2,979.0 1343.8,979.3 1345.3,979.5 1346.8,979.8 1348.3,980.0 1349.9,980.3 1351.4,980.6 1352.9,980.8 1354.5,981.1 1356.0,981.3 1357.5,981.6 1359.0,981.9 1360.6,982.1 1362.1,982.4 1363.6,982.6 1365.1,982.9 1366.7,983.2 1368.2,983.4 1369.7,983.7 1371.2,983.9 1372.8,984.2 1374.3,984.5 1375.8,984.7 1377.3,985.0 1378.9,985.2 1380.4,985.5 1381.9,985.8 1383.4,986.0 1385.0,986.3 1386.5,986.5 1388.0,986.8 1389.6,987.1 1391.1,987.3 1392.6,987.6 1394.1,987.8 1395.7,988.1 1397.2,988.4 1398.7,988.6 1400.2,988.9 1401.8,989.1 1403.3,989.4 1404.8,989.6 1406.3,989.8 1407.9,990.0 1409.4,990.2 1410.9,990.4 1412.4,990.6 1414.0,990.8 1415.5,991.0 1417.0,991.2 1418.6,991.4 1420.1,991.6 1421.6,991.8 1423.1,992.0 1424.7,992.2 1426.2,992.4 1427.7,992.6 1429.2,992.8 1430.8,993.0 1432.3,993.2 1433.8,993.4 1435.3,993.6 1436.9,993.8 1438.4,994.0 1439.9,994.2 1441.4,994.4 1443.0,994.6 1444.5,994.8 1446.0,995.0 1447.6,995.2 1449.1,995.4 1450.6,995.6 1452.1,995.8 1453.7,996.0 1455.2,996.2 1456.7,996.4 1458.2,996.6 1459.8,996.8 1461.3,997.0 1462.8,997.2 1464.3,997.4 1465.9,997.6 1467.4,997.8 1468.9,998.0 1470.4,998.2 1472.0,998.4 1473.5,998.6 1475.0,998.8 1476.6,999.0 1478.1,999.2 1479.6,999.4 1481.1,999.6 1482.7,999.8 1484.2,1000.0 1485.7,1000.2 1487.2,1000.4 1488.8,1000.6 1490.3,1000.8 1491.8,1001.0 1493.3,1001.2 1494.9,1001.4 1496.4,1001.5 1497.9,1001.7 1499.4,1001.9 1501.0,1002.1 1502.5,1002.3 1504.0,1002.5 1505.5,1002.7 1507.1,1002.9 1508.6,1003.1 1510.1,1003.4 1511.7,1003.6 1513.2,1003.8 1514.7,1004.0 1516.2,1004.2 1517.8,1004.4 1519.3,1004.6 1520.8,1004.8 1522.3,1005.0 1523.9,1005.2 1525.4,1005.4 1526.9,1005.6 1528.4,1005.8 1530.0,1006.0 1531.5,1006.2 1533.0,1006.4 1534.5,1006.6 1536.1,1006.8 1537.6,1007.0 1539.1,1007.2 1540.7,1007.4 1542.2,1007.6 1543.7,1007.8 1545.2,1008.0 1546.8,1008.2 1548.3,1008.4 1549.8,1008.6 1551.3,1008.8 1552.9,1009.0 1554.4,1009.2 1555.9,1009.4 1557.4,1009.6 1559.0,1009.8 1560.5,1010.0 1562.0,1010.3 1563.5,1010.5 1565.1,1010.7 1566.6,1010.9 1568.1,1011.1 1569.7,1011.3 1571.2,1011.5 1572.7,1011.7 1574.2,1011.9 1575.8,1012.1 1577.3,1012.3 1578.8,1012.5 1580.3,1012.7 1581.9,1012.9 1583.4,1013.1 1584.9,1013.3 1586.4,1013.5 1588.0,1013.7 1589.5,1013.8 1591.0,1014.0 1592.5,1014.1 1594.1,1014.3 1595.6,1014.4 1597.1,1014.6 1598.7,1014.7 1600.2,1014.9 1601.7,1015.0 1603.2,1015.2 1604.8,1015.3 1606.3,1015.5 1607.8,1015.6 1609.3,1015.8 1610.9,1015.9 1612.4,1016.1 1613.9,1016.2 1615.4,1016.4 1617.0,1016.5 1618.5,1016.7 1620.0,1016.9 1621.5,1017.1 1623.1,1017.2 1624.6,1017.4 1626.1,1017.6 1627.6,1017.8 1629.2,1017.9 1630.7,1018.1 1632.2,1018.3 1633.8,1018.5 1635.3,1018.6 1636.8,1018.8 1638.3,1019.0 1639.9,1019.2 1641.4,1019.3 1642.9,1019.5 1644.4,1019.7 1646.0,1019.9 1647.5,1020.0 1649.0,1020.2 1650.5,1020.4 1652.1,1020.6 1653.6,1020.7 1655.1,1020.9 1656.6,1021.1 1658.2,1021.3 1659.7,1021.4 1661.2,1021.6 1662.8,1021.8 1664.3,1022.0 1665.8,1022.1 1667.3,1022.3 1668.9,1022.5 1670.4,1022.7 1671.9,1022.8 1673.4,1023.0 1675.0,1023.2 1676.5,1023.3" fill="none" stroke="#000" stroke-width="3.4" stroke-linejoin="round" marker-start="url(#mHS)" marker-mid="url(#mHS)" marker-end="url(#mHS)"/>
<polygon points="227,412 228,428 228.2,434 230.3,442 233.2,456 239,465 245,481 247.5,490 256,490 252,465 246,440 240,415" fill="#000"/>
<polygon points="200.0,83.5 201.6,90.0 203.1,95.4 204.6,101.2 206.1,106.0 207.7,115.3 209.2,127.0 210.7,139.4 212.2,149.0 213.8,157.1 215.3,162.5 216.8,168.0 218.3,173.4 219.9,178.9 221.4,184.3 222.9,192.9 224.4,201.5 226.0,210.1 227.5,218.7 229.0,227.7 230.6,236.7 232.1,245.7 233.6,253.9 235.1,262.5 236.7,271.5 238.2,280.6 239.7,288.3 241.2,295.0 242.8,302.1 244.3,307.4 245.8,313.6 247.3,319.4 248.9,325.1 250.4,330.3 251.9,339.9 253.4,349.5 255.0,358.1 256.5,366.2 258.0,372.9 259.6,379.6 261.1,385.8 262.6,391.5 264.1,396.8 265.7,402.1 267.2,405.9 268.7,409.2 270.2,412.6 271.8,415.9 273.3,418.3 274.8,421.2 276.3,423.5 287.8,423.5 286.3,421.2 284.8,418.3 283.3,415.9 281.7,412.6 280.2,409.2 278.7,405.9 277.2,402.1 275.6,396.8 274.1,391.5 272.6,385.8 271.1,379.6 269.5,372.9 268.0,366.2 266.5,358.1 264.9,349.5 263.4,339.9 261.9,330.3 260.4,325.1 258.8,319.4 257.3,313.6 255.8,307.4 254.3,302.1 252.7,295.0 251.2,288.3 249.7,280.6 248.2,271.5 246.6,262.5 245.1,253.9 243.6,245.7 242.1,236.7 240.5,227.7 239.0,218.7 237.5,210.1 235.9,201.5 234.4,192.9 232.9,184.3 231.4,178.9 229.8,173.4 228.3,168.0 226.8,162.5 225.3,157.1 223.7,149.0 222.2,139.4 220.7,127.0 219.2,115.3 217.6,106.0 216.1,101.2 214.6,95.4 213.1,90.0 211.5,83.5" fill="#000"/>
<polygon points="204.0,83.5 205.6,90.0 207.1,95.4 208.6,101.2 210.1,106.0 211.7,115.3 213.2,127.0 214.7,139.4 216.2,149.0 217.8,157.1 219.3,162.5 220.8,168.0 222.3,173.4 223.9,178.9 225.4,184.3 226.9,192.9 228.4,201.5 230.0,210.1 231.5,218.7 233.0,227.7 234.6,236.7 236.1,245.7 237.6,253.9 239.1,262.5 240.7,271.5 242.2,280.6 243.7,288.3 245.2,295.0 246.8,302.1 248.3,307.4 249.8,313.6 251.3,319.4 252.9,325.1 254.4,330.3 255.9,339.9 257.4,349.5 259.0,358.1 260.5,366.2 262.0,372.9 263.6,379.6 265.1,385.8 266.6,391.5 268.1,396.8 269.7,402.1 271.2,405.9 272.7,409.2 274.2,412.6 275.8,415.9 277.3,418.3 278.8,421.2 280.3,423.5 285.9,431.3 287.4,438.0 288.9,442.7 290.4,445.3 292.0,447.8 293.5,450.4 295.0,452.9 296.5,455.5 298.1,458.0 299.6,460.6 301.1,463.1 302.7,468.5 304.2,474.6 305.7,480.6 307.2,485.0 308.8,487.2 310.3,489.4 311.8,491.6 313.3,493.8 314.9,496.0 316.4,498.1 317.9,500.3 319.4,502.5 321.0,504.7 322.5,508.0 324.0,513.6 325.5,519.3 327.1,523.1 328.6,524.8 330.1,526.5 331.7,528.2 333.2,529.9 334.7,531.6 336.2,533.3 337.8,535.0 339.3,536.6 340.8,539.7 342.3,543.3 343.9,546.8 345.4,548.7 346.9,550.2 348.4,551.7 350.0,553.3 351.5,554.8 353.0,556.3 354.5,557.8 356.1,559.4 357.6,561.0 359.1,562.8 360.7,564.7 362.2,566.5 363.7,568.4 365.2,570.3 366.8,572.1 368.3,574.0 369.8,575.8 371.3,577.7 372.9,579.5 374.4,581.3 375.9,583.1 377.4,584.9 379.0,586.7 380.5,588.5 382.0,590.3 383.5,592.2 385.1,594.0 386.6,595.8 388.1,597.3 389.6,598.9 391.2,600.4 392.7,601.9 394.2,603.4 395.8,605.0 397.3,606.5 398.8,608.0 400.3,609.5 401.9,611.1 403.4,612.5 404.9,613.9 406.4,615.3 408.0,616.6 409.5,618.0 411.0,619.4 412.5,620.8 414.1,622.1 415.6,623.5 417.1,624.9 418.6,626.1 420.2,627.2 421.7,628.3 423.2,629.4 424.8,630.5 426.3,631.6 427.8,632.7 429.3,633.8 430.9,635.0 432.4,636.1 433.9,637.2 435.4,638.6 437.0,640.0 438.5,641.4 440.0,642.8 441.5,644.2 443.1,645.5 444.6,646.9 446.1,648.3 447.6,649.7 449.2,651.0 450.7,652.1 452.2,653.2 453.8,654.3 455.3,655.5 456.8,656.6 458.3,657.7 459.9,658.8 461.4,659.9 462.9,661.1 464.4,662.2 466.0,663.3 467.5,664.4 469.0,665.5 470.5,666.7 472.1,667.8 473.6,668.9 475.1,670.0 476.6,671.2 478.2,672.2 479.7,673.2 481.2,674.2 482.8,675.3 484.3,676.3 485.8,677.3 487.3,678.3 488.9,679.3 490.4,680.3 491.9,681.3 493.4,682.4 495.0,683.4 496.5,684.4 498.0,685.4 499.5,686.5 501.1,687.5 502.6,688.5 504.1,689.5 505.6,690.6 507.2,691.4 508.7,692.3 510.2,693.1 511.8,694.0 513.3,694.9 514.8,695.7 516.3,696.6 517.9,697.4 519.4,698.3 520.9,699.1 522.4,700.0 524.0,700.9 525.5,701.7 527.0,702.6 528.5,703.5 530.1,704.3 531.6,705.2 533.1,706.1 534.6,706.9 536.2,707.7 537.7,708.5 539.2,709.2 540.7,710.0 542.3,710.8 543.8,711.5 545.3,712.3 546.9,713.1 548.4,713.8 549.9,714.6 551.4,715.4 553.0,716.1 554.5,717.0 556.0,717.9 557.5,718.8 559.1,719.7 560.6,720.6 562.1,721.5 563.6,722.4 565.2,723.3 566.7,724.2 568.2,725.1 569.7,726.0 571.3,727.0 572.8,727.9 574.3,728.7 575.9,729.5 577.4,730.4 578.9,731.2 580.4,732.1 582.0,732.9 583.5,733.8 585.0,734.6 586.5,735.5 588.1,736.3 589.6,737.2 591.1,738.0 592.6,738.8 594.2,739.6 595.7,740.3 597.2,741.1 598.7,741.9 600.3,742.6 601.8,743.4 603.3,744.1 604.9,744.9 606.4,745.7 607.9,746.4 609.4,747.2 611.0,747.9 612.5,748.7 614.0,749.4 615.5,750.2 617.1,750.9 618.6,751.7 620.1,752.4 621.6,753.1 623.2,753.9 624.7,754.6 626.2,755.4 627.7,756.1 629.3,756.7 630.8,757.2 632.3,757.6 633.9,758.0 635.4,758.5 636.9,758.9 638.4,759.3 640.0,759.8 641.5,760.2 643.0,760.6 644.5,761.1 646.1,761.5 647.6,762.0 686.8,772.0 744.2,788.3 800.0,804.5 1000.0,851.3 1190.0,887.0 1190.0,983.5 1000.0,944.3 800.0,884.7 744.2,868.4 686.8,848.4 658.1,837.8 612.4,815.7 583.7,805.2 555.0,792.7 526.4,778.4 497.7,763.1 469.0,747.8 449.9,731.5 430.8,720.1 409.7,707.6 390.6,699.0 367.7,686.6 346.6,675.1 325.6,662.7 306.8,652.5 303.6,633.7 302.1,628.0 300.5,620.0 299.0,612.0 297.5,606.0 296.0,600.0 294.4,598.8 292.9,597.6 291.4,596.4 289.9,595.2 288.3,594.0 286.8,591.7 285.3,585.2 283.8,578.8 282.2,572.3 280.7,565.9 279.2,561.1 277.7,558.8 276.1,556.4 274.6,554.1 273.1,551.8 271.5,549.5 270.0,547.2 268.5,544.9 267.0,541.5 265.4,534.0 263.9,526.6 262.4,519.4 260.9,512.2 259.3,505.0 257.8,498.6 256.3,494.1 254.8,489.5 253.2,485.0 251.7,479.8 250.2,474.7 248.7,469.5 247.1,463.0 245.6,455.9 244.1,448.8 242.6,441.7 241.0,434.2 239.5,424.9 238.0,415.7 236.4,406.4 234.9,397.2 233.4,387.9 231.9,378.7 230.3,368.1 228.8,356.5 227.3,345.0 225.8,333.5 224.2,320.5 222.7,306.8 221.2,293.2 219.7,284.0 218.1,281.6 216.6,279.2 215.1,276.8 213.6,274.4 212.0,271.9 210.5,269.2 209.0,265.2 207.4,261.1 205.9,257.1 204.4,253.1 202.9,249.0 201.3,245.0 199.8,235.0 198.3,225.0 196.8,215.0 195.2,200.7 193.7,186.4 192.2,172.3 190.7,157.0 189.1,128.5 187.6,113.7 186.1,105.6 184.6,99.3 183.0,84.0" fill="#f00"/>
<polygon points="1186.6,939.4 1191.1,940.3 1195.7,941.2 1200.3,942.1 1204.9,943.0 1209.5,943.9 1214.0,944.8 1218.6,945.7 1223.2,946.6 1227.8,947.5 1232.4,948.4 1236.9,949.3 1241.5,950.2 1246.1,951.1 1250.7,952.1 1255.2,953.0 1259.8,953.9 1264.4,954.8 1269.0,955.7 1273.6,956.6 1278.1,957.5 1282.7,958.4 1287.3,959.3 1291.9,960.2 1296.5,961.1 1301.0,962.0 1305.6,962.7 1310.2,963.4 1314.8,964.1 1319.3,964.8 1323.9,965.6 1328.5,966.3 1333.1,967.0 1337.7,967.7 1342.2,968.4 1346.8,969.2 1351.4,969.9 1356.0,970.6 1360.6,971.3 1365.1,972.0 1369.7,972.7 1374.3,973.5 1378.9,974.2 1383.4,974.9 1388.0,975.6 1388.0,993.7 1383.4,993.0 1378.9,992.4 1374.3,991.7 1369.7,991.0 1365.1,990.3 1360.6,989.6 1356.0,989.0 1351.4,988.3 1346.8,987.6 1342.2,986.9 1337.7,986.2 1333.1,985.6 1328.5,984.9 1323.9,984.2 1319.3,983.5 1314.8,982.8 1310.2,982.2 1305.6,981.5 1301.0,980.8 1296.5,980.1 1291.9,979.3 1287.3,978.5 1282.7,991.7 1278.1,990.7 1273.6,989.7 1269.0,988.6 1264.4,987.6 1259.8,986.6 1255.2,985.5 1250.7,984.5 1246.1,983.5 1241.5,982.4 1236.9,981.4 1232.4,980.4 1227.8,979.3 1223.2,978.3 1218.6,977.3 1214.0,976.2 1209.5,975.2 1204.9,974.2 1200.3,973.1 1195.7,972.1 1191.1,971.2 1186.6,970.2" fill="#f00"/>
<polygon points="284,594 296.5,600.5 297.5,619 306.5,653.5 326,664.5 347,676.5 365,665 320,596" fill="#f00"/>
<polyline points="196.0,84.0 197.6,99.3 199.1,105.6 200.6,113.7 202.1,128.5 203.7,157.0 205.2,172.3 206.7,186.4 208.2,200.7 209.8,215.0 211.3,225.0 212.8,235.0 214.3,245.0 215.9,249.0 217.4,253.1 218.9,257.1 220.4,261.1 222.0,265.2 223.5,269.2 225.0,271.9 226.6,274.4 228.1,276.8 229.6,279.2 231.1,281.6 232.7,284.0 234.2,293.2 235.7,306.8 237.2,320.5 238.8,333.5 240.3,345.0 241.8,356.5 243.3,368.1 244.9,378.7 246.4,387.9 247.9,397.2 249.4,406.4 251.0,415.7 252.5,424.9 254.0,434.2 255.6,441.7 257.1,448.8 258.6,455.9 260.1,463.0 261.7,469.5 263.2,474.7 264.7,479.8 266.2,485.0 267.8,489.5 269.3,494.1 270.8,498.6 272.3,505.0 273.9,512.2 275.4,519.4 276.9,526.6 278.4,534.0 280.0,541.5 281.5,544.9 283.0,547.2 284.5,549.5 286.1,551.8 287.6,554.1 289.1,556.4 290.7,558.8 292.2,561.1 293.7,565.9 295.2,572.3 296.8,578.8 298.3,585.2 299.8,591.7 301.3,594.0 302.9,595.2 304.4,596.4 305.9,597.6 307.4,598.8 309.0,600.0 310.5,606.0 312.0,612.0 313.5,620.0 315.1,628.0 316.6,633.7 318.1,639.3 319.7,641.8 321.2,643.0 322.7,644.2 324.2,645.3 325.8,646.5 327.3,647.4 328.8,648.3 330.3,649.2 331.9,650.2 333.4,651.1 334.9,652.0 336.4,652.9 338.0,653.8 339.5,654.8 341.0,655.7 342.5,656.6 344.1,657.5 345.6,658.4 347.1,659.3 348.7,660.2 350.2,661.0 351.7,661.9 353.2,662.7 354.8,663.6 356.3,664.4 357.8,665.3 359.3,666.1 360.9,667.0 362.4,667.9 363.9,668.7 365.4,669.6 367.0,670.4 368.5,671.3 370.0,672.1 371.5,673.0 373.1,673.9 374.6,674.7 376.1,675.6 377.6,676.5 379.2,677.3 380.7,678.2 382.2,679.0 383.8,679.9 385.3,680.8 386.8,681.6 388.3,682.5 389.9,683.4 391.4,684.1 392.9,684.8 394.4,685.5 396.0,686.1 397.5,686.8 399.0,687.5 400.5,688.1 402.1,688.8 403.6,689.4 405.1,690.1 406.6,690.8 408.2,691.4 409.7,692.1 411.2,692.9 412.8,693.8 414.3,694.6 415.8,695.5 417.3,696.3 418.9,697.2 420.4,698.0 421.9,698.8 423.4,699.7 425.0,700.5 426.5,701.4 428.0,702.2 429.5,703.0 431.1,703.9 432.6,704.7 434.1,705.5 435.6,706.3 437.2,707.1 438.7,707.9 440.2,708.6 441.8,709.4 443.3,710.2 444.8,711.0 446.3,711.8 447.9,712.6 449.4,713.4 450.9,714.5 452.4,715.8 454.0,717.1 455.5,718.4 457.0,719.7 458.5,721.1 460.1,722.4 461.6,723.7 463.1,725.0 464.6,726.3 466.2,727.6 467.7,728.9 469.2,730.1 470.8,731.0 472.3,732.0 473.8,732.9 475.3,733.8 476.9,734.8 478.4,735.7 479.9,736.6 481.4,737.5 483.0,738.5 484.5,739.4 486.0,740.3 487.5,741.3 489.1,742.2 490.6,743.1 492.1,744.0 493.6,745.0 495.2,745.9 496.7,746.8 498.2,747.7 499.8,748.5 501.3,749.4 502.8,750.2 504.3,751.0 505.9,751.8 507.4,752.7 508.9,753.5 510.4,754.3 512.0,755.1 513.5,755.9 515.0,756.8 516.5,757.6 518.1,758.4 519.6,759.2 521.1,760.1 522.6,760.9 524.2,761.7 525.7,762.5 527.2,763.3 528.7,764.1 530.3,764.9 531.8,765.7 533.3,766.5 534.9,767.3 536.4,768.1 537.9,768.9 539.4,769.7 541.0,770.5 542.5,771.3 544.0,772.1 545.5,772.8 547.1,773.6 548.6,774.4 550.1,775.2 551.6,776.0 553.2,776.8 554.7,777.6 556.2,778.3 557.7,779.0 559.3,779.7 560.8,780.4 562.3,781.1 563.9,781.8 565.4,782.6 566.9,783.3 568.4,784.0 570.0,784.7 571.5,785.4 573.0,786.1 574.5,786.8 576.1,787.5 577.6,788.2 579.1,788.9 580.6,789.6 582.2,790.3 583.7,791.0 585.2,791.6 586.7,792.1 588.3,792.7 589.8,793.2 591.3,793.8 592.9,794.3 594.4,794.9 595.9,795.4 597.4,796.0 599.0,796.5 600.5,797.1 602.0,797.6 603.5,798.2 605.1,798.7 606.6,799.3 608.1,799.8 609.6,800.4 611.2,800.9 612.7,801.5 614.2,802.3 615.7,803.0 617.3,803.7 618.8,804.5 620.3,805.2 621.9,806.0 623.4,806.7 624.9,807.4 626.4,808.2 628.0,808.9 629.5,809.6 631.0,810.4 632.5,811.1 634.1,811.9 635.6,812.6 637.1,813.3 638.6,814.1 640.2,814.8 641.7,815.5 643.2,816.3 644.7,817.0 646.3,817.8 647.8,818.5 649.3,819.2 650.8,820.0 652.4,820.7 653.9,821.4 655.4,822.2 657.0,822.9 658.5,823.6 660.0,824.2 661.5,824.8 663.1,825.4 664.6,826.0 666.1,826.6 667.6,827.2 669.2,827.8 670.7,828.4 672.2,829.0 673.7,829.6 675.3,830.2 676.8,830.7 678.3,831.3 679.8,831.9 681.4,832.5 682.9,833.1 684.4,833.7 686.0,834.3 687.5,834.9 689.0,835.4 690.5,836.0 692.1,836.5 693.6,837.1 695.1,837.6 696.6,838.2 698.2,838.7 699.7,839.2 701.2,839.8 702.7,840.3 704.3,840.9 705.8,841.4 707.3,842.0 708.8,842.5 710.4,843.1 711.9,843.6 713.4,844.1 715.0,844.7 716.5,845.2 718.0,845.8 719.5,846.3 721.1,846.9 722.6,847.4 724.1,848.0 725.6,848.5 727.2,849.0 728.7,849.6 730.2,850.1 731.7,850.7 733.3,851.2 734.8,851.8 736.3,852.3 737.8,852.9 739.4,853.4 740.9,853.9 742.4,854.5 744.0,855.0 745.5,855.5 747.0,856.0 748.5,856.4 750.1,856.9 751.6,857.3 753.1,857.8 754.6,858.2 756.2,858.7 757.7,859.1 759.2,859.6 760.7,860.0 762.3,860.5 763.8,860.9 765.3,861.4 766.8,861.9 768.4,862.3 769.9,862.8 771.4,863.2 772.9,863.7 774.5,864.1 776.0,864.6 777.5,865.0 779.1,865.5 780.6,865.9 782.1,866.4 783.6,866.8 785.2,867.3 786.7,867.8 788.2,868.2 789.7,868.7 791.3,869.1 792.8,869.6 794.3,870.0 795.8,870.5 797.4,870.9 798.9,871.4 800.4,871.8 801.9,872.3 803.5,872.8 805.0,873.2 806.5,873.7 808.1,874.1 809.6,874.6 811.1,875.0 812.6,875.5 814.2,876.0 815.7,876.4 817.2,876.9 818.7,877.3 820.3,877.8 821.8,878.2 823.3,878.7 824.8,879.2 826.4,879.6 827.9,880.1 829.4,880.5 830.9,881.0 832.5,881.4 834.0,881.9 835.5,882.4 837.1,882.8 838.6,883.3 840.1,883.7 841.6,884.2 843.2,884.6 844.7,885.1 846.2,885.6 847.7,886.0 849.3,886.5 850.8,886.9 852.3,887.4 853.8,887.8 855.4,888.3 856.9,888.7 858.4,889.2 859.9,889.7 861.5,890.1 863.0,890.6 864.5,891.0 866.1,891.5 867.6,891.9 869.1,892.4 870.6,892.9 872.2,893.3 873.7,893.8 875.2,894.2 876.7,894.7 878.3,895.1 879.8,895.6 881.3,896.1 882.8,896.5 884.4,897.0 885.9,897.4 887.4,897.9 888.9,898.3 890.5,898.8 892.0,899.3 893.5,899.7 895.0,900.2 896.6,900.6 898.1,901.1 899.6,901.5 901.2,902.0 902.7,902.5 904.2,902.9 905.7,903.4 907.3,903.8 908.8,904.3 910.3,904.7 911.8,905.2 913.4,905.7 914.9,906.1 916.4,906.6 917.9,907.0 919.5,907.5 921.0,907.9 922.5,908.4 924.0,908.9 925.6,909.3 927.1,909.8 928.6,910.2 930.2,910.7 931.7,911.1 933.2,911.6 934.7,912.1 936.3,912.5 937.8,913.0 939.3,913.4 940.8,913.9 942.4,914.3 943.9,914.8 945.4,915.3 946.9,915.7 948.5,916.2 950.0,916.6 951.5,917.1 953.0,917.5 954.6,918.0 956.1,918.5 957.6,918.9 959.2,919.4 960.7,919.8 962.2,920.3 963.7,920.7 965.3,921.2 966.8,921.7 968.3,922.1 969.8,922.6 971.4,923.0 972.9,923.5 974.4,923.9 975.9,924.4 977.5,924.9 979.0,925.3 980.5,925.8 982.0,926.2 983.6,926.7 985.1,927.1 986.6,927.6 988.2,928.1 989.7,928.5 991.2,929.0 992.7,929.4 994.3,929.9 995.8,930.3 997.3,930.8 998.8,931.3 1000.4,931.7 1001.9,932.0 1003.4,932.3 1004.9,932.6 1006.5,932.9 1008.0,933.3 1009.5,933.6 1011.0,933.9 1012.6,934.2 1014.1,934.5 1015.6,934.8 1017.1,935.2 1018.7,935.5 1020.2,935.8 1021.7,936.1 1023.3,936.4 1024.8,936.7 1026.3,937.0 1027.8,937.4 1029.4,937.7 1030.9,938.0 1032.4,938.3 1033.9,938.6 1035.5,938.9 1037.0,939.3 1038.5,939.6 1040.0,939.9 1041.6,940.2 1043.1,940.5 1044.6,940.8 1046.1,941.2 1047.7,941.5 1049.2,941.8 1050.7,942.1 1052.3,942.4 1053.8,942.7 1055.3,943.1 1056.8,943.4 1058.4,943.7 1059.9,944.0 1061.4,944.3 1062.9,944.6 1064.5,944.9 1066.0,945.3 1067.5,945.6 1069.0,945.9 1070.6,946.2 1072.1,946.5 1073.6,946.8 1075.1,947.2 1076.7,947.5 1078.2,947.8 1079.7,948.1 1081.3,948.4 1082.8,948.7 1084.3,949.1 1085.8,949.4 1087.4,949.7 1088.9,950.0 1090.4,950.3 1091.9,950.6 1093.5,951.0 1095.0,951.3 1096.5,951.6 1098.0,951.9 1099.6,952.2 1101.1,952.5 1102.6,952.8 1104.1,953.2 1105.7,953.5 1107.2,953.8 1108.7,954.1 1110.2,954.4 1111.8,954.7 1113.3,955.1 1114.8,955.4 1116.4,955.7 1117.9,956.0 1119.4,956.3 1120.9,956.6 1122.5,957.0 1124.0,957.3 1125.5,957.6 1127.0,957.9 1128.6,958.2 1130.1,958.5 1131.6,958.9 1133.1,959.2 1134.7,959.5 1136.2,959.8 1137.7,960.1 1139.2,960.4 1140.8,960.8 1142.3,961.1 1143.8,961.4 1145.4,961.7 1146.9,962.0 1148.4,962.3 1149.9,962.6 1151.5,963.0 1153.0,963.3 1154.5,963.6 1156.0,963.9 1157.6,964.2 1159.1,964.5 1160.6,964.9 1162.1,965.2 1163.7,965.5 1165.2,965.8 1166.7,966.1 1168.2,966.4 1169.8,966.8 1171.3,967.1 1172.8,967.4 1174.4,967.7 1175.9,968.0 1177.4,968.3 1178.9,968.7 1180.5,969.0 1182.0,969.3 1183.5,969.6 1185.0,969.9 1186.6,970.2 1188.1,970.5 1189.6,970.9 1191.1,971.2 1192.7,971.5 1194.2,971.8 1195.7,972.1 1197.2,972.4 1198.8,972.8 1200.3,973.1 1201.8,973.5 1203.4,973.8 1204.9,974.2 1206.4,974.5 1207.9,974.8 1209.5,975.2 1211.0,975.5 1212.5,975.9 1214.0,976.2 1215.6,976.6 1217.1,976.9 1218.6,977.3 1220.1,977.6 1221.7,977.9 1223.2,978.3 1224.7,978.6 1226.2,979.0 1227.8,979.3 1229.3,979.7 1230.8,980.0 1232.4,980.4 1233.9,980.7 1235.4,981.0 1236.9,981.4 1238.5,981.7 1240.0,982.1 1241.5,982.4 1243.0,982.8 1244.6,983.1 1246.1,983.5 1247.6,983.8 1249.1,984.2 1250.7,984.5 1252.2,984.8 1253.7,985.2 1255.2,985.5 1256.8,985.9 1258.3,986.2 1259.8,986.6 1261.3,986.9 1262.9,987.3 1264.4,987.6 1265.9,987.9 1267.5,988.3 1269.0,988.6 1270.5,989.0 1272.0,989.3 1273.6,989.7 1275.1,990.0 1276.6,990.4 1278.1,990.7 1279.7,991.0 1281.2,991.4 1282.7,991.7" fill="none" stroke="#f00" stroke-width="4.3" stroke-linejoin="round" marker-start="url(#mLS)" marker-mid="url(#mLS)" marker-end="url(#mLS)"/>
<polyline points="196.0,84.0 197.6,97.0 199.1,102.5 200.6,108.0 202.1,120.0 203.7,145.0 205.2,165.0 206.7,170.0 208.2,175.0 209.8,180.0 211.3,185.0 212.8,190.0 214.3,195.0 215.9,200.0 217.4,205.0 218.9,211.9 220.4,218.8 222.0,225.8 223.5,232.7 225.0,239.6 226.6,246.5 228.1,253.8 229.6,261.5 231.1,269.2 232.7,276.9 234.2,286.9 235.7,298.4 237.2,309.9 238.8,321.2 240.3,332.0 241.8,342.8 243.3,353.5 244.9,363.3 246.4,371.7 247.9,380.0 249.4,388.3 251.0,396.7 252.5,405.0 254.0,413.3 255.6,419.1 257.1,424.3 258.6,429.5 260.1,434.7 261.7,439.8 263.2,445.0 264.7,449.2 266.2,453.3 267.8,457.5 269.3,461.7 270.8,465.8 272.3,470.0 273.9,475.6 275.4,481.1 276.9,486.7 278.4,492.2 280.0,497.8 281.5,503.3 283.0,508.9 284.5,514.4 286.1,520.0 287.6,524.5 289.1,529.0 290.7,533.5 292.2,538.0 293.7,542.5 295.2,547.0 296.8,551.5 298.3,556.0 299.8,560.5 301.3,565.0 302.9,569.5 304.4,574.0 305.9,578.5 307.4,583.0 309.0,587.5 310.5,592.0 312.0,596.5 313.5,601.0 315.1,605.5 316.6,610.0 318.1,613.0 319.7,616.0 321.2,619.0 322.7,622.0 324.2,625.0 325.8,628.0 327.3,631.0 328.8,634.0 330.3,637.0 331.9,640.0 333.4,641.7 334.9,643.4 336.4,645.0 338.0,646.7 339.5,648.4 341.0,650.1 342.5,651.8 344.1,653.5 345.6,655.1 347.1,656.8 348.7,658.5 350.2,660.1 351.7,661.0 353.2,661.8 354.8,662.7 356.3,663.5 357.8,664.4 359.3,665.2 360.9,666.1 362.4,666.9 363.9,667.8 365.4,668.6 367.0,669.5 368.5,670.4 370.0,671.2 371.5,672.1 373.1,672.9 374.6,673.8 376.1,674.6 377.6,675.5 379.2,676.3 380.7,677.2 382.2,678.0 383.8,678.9 385.3,679.8 386.8,680.6 388.3,681.5 389.9,682.3 391.4,683.2 392.9,684.0 394.4,684.9 396.0,685.7 397.5,686.6 399.0,687.4 400.5,688.3 402.1,689.2 403.6,690.0 405.1,690.9 406.6,691.7 408.2,692.6 409.7,693.4 411.2,694.3 412.8,695.1 414.3,696.0 415.8,696.9 417.3,697.7 418.9,698.6 420.4,699.4 421.9,700.3 423.4,701.1 425.0,702.0 426.5,702.8 428.0,703.7 429.5,704.5 431.1,705.4 432.6,706.3 434.1,707.1 435.6,708.0 437.2,708.8 438.7,709.7 440.2,710.5 441.8,711.4 443.3,712.2 444.8,713.1 446.3,713.9 447.9,714.8 449.4,715.7 450.9,716.5 452.4,717.5 454.0,718.4 455.5,719.3 457.0,720.2 458.5,721.1 460.1,722.0 461.6,723.0 463.1,723.9 464.6,724.8 466.2,725.7 467.7,726.6 469.2,727.5 470.8,728.5 472.3,729.4 473.8,730.3 475.3,731.2 476.9,732.1 478.4,733.0 479.9,733.9 481.4,734.9 483.0,735.8 484.5,736.7 486.0,737.6 487.5,738.5 489.1,739.4 490.6,740.4 492.1,741.3 493.6,742.2 495.2,743.1 496.7,744.0 498.2,744.9 499.8,745.9 501.3,746.6 502.8,747.4 504.3,748.2 505.9,748.9 507.4,749.7 508.9,750.5 510.4,751.2 512.0,752.0 513.5,752.7 515.0,753.5 516.5,754.3 518.1,755.0 519.6,755.8 521.1,756.6 522.6,757.3 524.2,758.1 525.7,758.8 527.2,759.6 528.7,760.4 530.3,761.1 531.8,761.9 533.3,762.7 534.9,763.4 536.4,764.2 537.9,765.0 539.4,765.7 541.0,766.5 542.5,767.2 544.0,768.0 545.5,768.8 547.1,769.5 548.6,770.3 550.1,771.1 551.6,771.7 553.2,772.4 554.7,773.1 556.2,773.7 557.7,774.4 559.3,775.1 560.8,775.8 562.3,776.4 563.9,777.1 565.4,777.8 566.9,778.4 568.4,779.1 570.0,779.8 571.5,780.5 573.0,781.1 574.5,781.8 576.1,782.5 577.6,783.1 579.1,783.8 580.6,784.5 582.2,785.2 583.7,785.8 585.2,786.5 586.7,787.2 588.3,787.8 589.8,788.5 591.3,789.2 592.9,789.9 594.4,790.5 595.9,791.2 597.4,791.9 599.0,792.5 600.5,793.2 602.0,793.8 603.5,794.5 605.1,795.1 606.6,795.7 608.1,796.4 609.6,797.0 611.2,797.7 612.7,798.3 614.2,798.9 615.7,799.6 617.3,800.2 618.8,800.8 620.3,801.5 621.9,802.1 623.4,802.7 624.9,803.4 626.4,804.0 628.0,804.6 629.5,805.3 631.0,805.9 632.5,806.6 634.1,807.2 635.6,807.8 637.1,808.5 638.6,809.1 640.2,809.7 641.7,810.4 643.2,811.0 644.7,811.6 646.3,812.3 647.8,812.9 649.3,813.6 650.8,814.2 652.4,814.8 653.9,815.5 655.4,816.1 657.0,816.7 658.5,817.4 660.0,818.0 661.5,818.5 663.1,819.1 664.6,819.6 666.1,820.2 667.6,820.7 669.2,821.2 670.7,821.8 672.2,822.3 673.7,822.9 675.3,823.4 676.8,823.9 678.3,824.5 679.8,825.0 681.4,825.5 682.9,826.1 684.4,826.6 686.0,827.2 687.5,827.7 689.0,828.2 690.5,828.8 692.1,829.3 693.6,829.9 695.1,830.4 696.6,830.9 698.2,831.5 699.7,832.0 701.2,832.5 702.7,833.1 704.3,833.6 705.8,834.2 707.3,834.7 708.8,835.2 710.4,835.8 711.9,836.3 713.4,836.9 715.0,837.4 716.5,837.9 718.0,838.5 719.5,839.0 721.1,839.5 722.6,840.1 724.1,840.6 725.6,841.2 727.2,841.7 728.7,842.2 730.2,842.8 731.7,843.3 733.3,843.9 734.8,844.4 736.3,844.9 737.8,845.5 739.4,846.0 740.9,846.6 742.4,847.1 744.0,847.6 745.5,848.1 747.0,848.6 748.5,849.0 750.1,849.5 751.6,849.9 753.1,850.4 754.6,850.8 756.2,851.2 757.7,851.7 759.2,852.1 760.7,852.6 762.3,853.0 763.8,853.5 765.3,853.9 766.8,854.4 768.4,854.8 769.9,855.2 771.4,855.7 772.9,856.1 774.5,856.6 776.0,857.0 777.5,857.5 779.1,857.9 780.6,858.4 782.1,858.8 783.6,859.2 785.2,859.7 786.7,860.1 788.2,860.6 789.7,861.0 791.3,861.5 792.8,861.9 794.3,862.3 795.8,862.8 797.4,863.2 798.9,863.7 800.4,864.1 801.9,864.5 803.5,864.9 805.0,865.4 806.5,865.8 808.1,866.2 809.6,866.6 811.1,867.0 812.6,867.4 814.2,867.8 815.7,868.2 817.2,868.6 818.7,869.1 820.3,869.5 821.8,869.9 823.3,870.3 824.8,870.7 826.4,871.1 827.9,871.5 829.4,871.9 830.9,872.4 832.5,872.8 834.0,873.2 835.5,873.6 837.1,874.0 838.6,874.4 840.1,874.8 841.6,875.2 843.2,875.7 844.7,876.1 846.2,876.5 847.7,876.9 849.3,877.3 850.8,877.7 852.3,878.1 853.8,878.5 855.4,878.9 856.9,879.4 858.4,879.8 859.9,880.2 861.5,880.6 863.0,881.0 864.5,881.4 866.1,881.8 867.6,882.2 869.1,882.7 870.6,883.1 872.2,883.5 873.7,883.9 875.2,884.3 876.7,884.7 878.3,885.1 879.8,885.5 881.3,886.0 882.8,886.4 884.4,886.8 885.9,887.2 887.4,887.6 888.9,888.0 890.5,888.4 892.0,888.8 893.5,889.3 895.0,889.7 896.6,890.1 898.1,890.5 899.6,890.9 901.2,891.3 902.7,891.7 904.2,892.1 905.7,892.5 907.3,893.0 908.8,893.4 910.3,893.8 911.8,894.2 913.4,894.6 914.9,895.0 916.4,895.4 917.9,895.8 919.5,896.3 921.0,896.7 922.5,897.1 924.0,897.5 925.6,897.9 927.1,898.3 928.6,898.7 930.2,899.1 931.7,899.6 933.2,900.0 934.7,900.4 936.3,900.8 937.8,901.2 939.3,901.6 940.8,902.0 942.4,902.4 943.9,902.8 945.4,903.3 946.9,903.7 948.5,904.1 950.0,904.5 951.5,904.9 953.0,905.3 954.6,905.7 956.1,906.1 957.6,906.6 959.2,907.0 960.7,907.4 962.2,907.8 963.7,908.2 965.3,908.6 966.8,909.0 968.3,909.4 969.8,909.9 971.4,910.3 972.9,910.7 974.4,911.1 975.9,911.5 977.5,911.9 979.0,912.3 980.5,912.7 982.0,913.2 983.6,913.6 985.1,914.0 986.6,914.4 988.2,914.8 989.7,915.2 991.2,915.6 992.7,916.0 994.3,916.4 995.8,916.9 997.3,917.3 998.8,917.7 1000.4,918.1 1001.9,918.4 1003.4,918.8 1004.9,919.1 1006.5,919.4 1008.0,919.8 1009.5,920.1 1011.0,920.5 1012.6,920.8 1014.1,921.1 1015.6,921.5 1017.1,921.8 1018.7,922.1 1020.2,922.5 1021.7,922.8 1023.3,923.2 1024.8,923.5 1026.3,923.8 1027.8,924.2 1029.4,924.5 1030.9,924.9 1032.4,925.2 1033.9,925.5 1035.5,925.9 1037.0,926.2 1038.5,926.6 1040.0,926.9 1041.6,927.2 1043.1,927.6 1044.6,927.9 1046.1,928.3 1047.7,928.6 1049.2,928.9 1050.7,929.3 1052.3,929.6 1053.8,930.0 1055.3,930.3 1056.8,930.6 1058.4,931.0 1059.9,931.3 1061.4,931.6 1062.9,932.0 1064.5,932.3 1066.0,932.7 1067.5,933.0 1069.0,933.3 1070.6,933.7 1072.1,934.0 1073.6,934.4 1075.1,934.7 1076.7,935.0 1078.2,935.4 1079.7,935.7 1081.3,936.1 1082.8,936.4 1084.3,936.7 1085.8,937.1 1087.4,937.4 1088.9,937.8 1090.4,938.1 1091.9,938.4 1093.5,938.8 1095.0,939.1 1096.5,939.4 1098.0,939.8 1099.6,940.1 1101.1,940.5 1102.6,940.8 1104.1,941.1 1105.7,941.5 1107.2,941.8 1108.7,942.2 1110.2,942.5 1111.8,942.8 1113.3,943.2 1114.8,943.5 1116.4,943.9 1117.9,944.2 1119.4,944.5 1120.9,944.9 1122.5,945.2 1124.0,945.6 1125.5,945.9 1127.0,946.2 1128.6,946.6 1130.1,946.9 1131.6,947.2 1133.1,947.6 1134.7,947.9 1136.2,948.3 1137.7,948.6 1139.2,948.9 1140.8,949.3 1142.3,949.6 1143.8,950.0 1145.4,950.3 1146.9,950.6 1148.4,951.0 1149.9,951.3 1151.5,951.7 1153.0,952.0 1154.5,952.3 1156.0,952.7 1157.6,953.0 1159.1,953.4 1160.6,953.7 1162.1,954.0 1163.7,954.4 1165.2,954.7 1166.7,955.0 1168.2,955.4 1169.8,955.7 1171.3,956.1 1172.8,956.4 1174.4,956.7 1175.9,957.1 1177.4,957.4 1178.9,957.8 1180.5,958.1 1182.0,958.4 1183.5,958.8 1185.0,959.1 1186.6,959.5 1188.1,959.8 1189.6,960.1 1191.1,960.5 1192.7,960.8 1194.2,961.2 1195.7,961.5 1197.2,961.8 1198.8,962.1 1200.3,962.4 1201.8,962.7 1203.4,963.0 1204.9,963.3 1206.4,963.6 1207.9,963.8 1209.5,964.1 1211.0,964.4 1212.5,964.7 1214.0,965.0 1215.6,965.2 1217.1,965.5 1218.6,965.8 1220.1,966.1 1221.7,966.4 1223.2,966.6 1224.7,966.9 1226.2,967.2 1227.8,967.5 1229.3,967.8 1230.8,968.1 1232.4,968.3 1233.9,968.6 1235.4,968.9 1236.9,969.2 1238.5,969.5 1240.0,969.7 1241.5,970.0 1243.0,970.3 1244.6,970.6 1246.1,970.9 1247.6,971.2 1249.1,971.4 1250.7,971.7 1252.2,972.0 1253.7,972.3 1255.2,972.6 1256.8,972.8 1258.3,973.1 1259.8,973.4 1261.3,973.7 1262.9,974.0 1264.4,974.3 1265.9,974.5 1267.5,974.8 1269.0,975.1 1270.5,975.4 1272.0,975.7 1273.6,975.9 1275.1,976.2 1276.6,976.5 1278.1,976.8 1279.7,977.1 1281.2,977.4 1282.7,977.6 1284.2,977.9 1285.8,978.2 1287.3,978.5 1288.8,978.8 1290.3,979.0 1291.9,979.3 1293.4,979.6 1294.9,979.9 1296.5,980.1 1298.0,980.3 1299.5,980.6 1301.0,980.8 1302.6,981.0 1304.1,981.2 1305.6,981.5 1307.1,981.7 1308.7,981.9 1310.2,982.2 1311.7,982.4 1313.2,982.6 1314.8,982.8 1316.3,983.1 1317.8,983.3 1319.3,983.5 1320.9,983.7 1322.4,984.0 1323.9,984.2 1325.5,984.4 1327.0,984.6 1328.5,984.9 1330.0,985.1 1331.6,985.3 1333.1,985.6 1334.6,985.8 1336.1,986.0 1337.7,986.2 1339.2,986.5 1340.7,986.7 1342.2,986.9 1343.8,987.1 1345.3,987.4 1346.8,987.6 1348.3,987.8 1349.9,988.0 1351.4,988.3 1352.9,988.5 1354.5,988.7 1356.0,989.0 1357.5,989.2 1359.0,989.4 1360.6,989.6 1362.1,989.9 1363.6,990.1 1365.1,990.3 1366.7,990.5 1368.2,990.8 1369.7,991.0 1371.2,991.2 1372.8,991.4 1374.3,991.7 1375.8,991.9 1377.3,992.1 1378.9,992.4 1380.4,992.6 1381.9,992.8 1383.4,993.0 1385.0,993.3 1386.5,993.5 1388.0,993.7 1389.6,993.9" fill="none" stroke="#f00" stroke-width="3.4" stroke-linejoin="round" marker-start="url(#mMCD)" marker-mid="url(#mMCD)" marker-end="url(#mMCD)"/>
<polyline points="196.0,84.0 197.6,95.0 199.1,103.0 200.6,112.5 202.1,122.0 203.7,140.0 205.2,155.0 206.7,161.7 208.2,168.3 209.8,175.0 211.3,181.0 212.8,187.0 214.3,193.0 215.9,199.0 217.4,205.0 218.9,212.0 220.4,219.0 222.0,226.0 223.5,233.0 225.0,240.0 226.6,248.0 228.1,256.0 229.6,264.0 231.1,272.0 232.7,280.0 234.2,287.0 235.7,294.0 237.2,301.0 238.8,308.0 240.3,315.0 241.8,322.0 243.3,329.0 244.9,336.0 246.4,343.0 247.9,350.0 249.4,357.0 251.0,364.0 252.5,371.0 254.0,378.0 255.6,385.0 257.1,390.0 258.6,395.0 260.1,400.0 261.7,405.0 263.2,410.0 264.7,413.7 266.2,417.3 267.8,421.0 269.3,424.7 270.8,428.3 272.3,432.0 273.9,443.3 275.4,450.0 276.9,454.7 278.4,457.3 280.0,459.8 281.5,462.4 283.0,464.9 284.5,467.5 286.1,470.0 287.6,472.6 289.1,475.1 290.7,480.5 292.2,486.6 293.7,492.6 295.2,497.0 296.8,499.2 298.3,501.4 299.8,503.6 301.3,505.8 302.9,508.0 304.4,510.1 305.9,512.3 307.4,514.5 309.0,516.7 310.5,520.0 312.0,525.6 313.5,531.3 315.1,535.1 316.6,536.8 318.1,538.5 319.7,540.2 321.2,541.9 322.7,543.6 324.2,545.3 325.8,547.0 327.3,548.6 328.8,551.7 330.3,555.3 331.9,558.8 333.4,560.7 334.9,562.2 336.4,563.7 338.0,565.3 339.5,566.8 341.0,568.3 342.5,569.8 344.1,571.4 345.6,573.0 347.1,574.8 348.7,576.7 350.2,578.5 351.7,580.4 353.2,582.3 354.8,584.1 356.3,586.0 357.8,587.8 359.3,589.7 360.9,591.5 362.4,593.3 363.9,595.1 365.4,596.9 367.0,598.7 368.5,600.5 370.0,602.3 371.5,604.2 373.1,606.0 374.6,607.8 376.1,609.3 377.6,610.9 379.2,612.4 380.7,613.9 382.2,615.4 383.8,617.0 385.3,618.5 386.8,620.0 388.3,621.5 389.9,623.1 391.4,624.5 392.9,625.9 394.4,627.3 396.0,628.6 397.5,630.0 399.0,631.4 400.5,632.8 402.1,634.1 403.6,635.5 405.1,636.9 406.6,638.1 408.2,639.2 409.7,640.3 411.2,641.4 412.8,642.5 414.3,643.6 415.8,644.7 417.3,645.8 418.9,647.0 420.4,648.1 421.9,649.2 423.4,650.6 425.0,652.0 426.5,653.4 428.0,654.8 429.5,656.2 431.1,657.5 432.6,658.9 434.1,660.3 435.6,661.7 437.2,663.0 438.7,664.1 440.2,665.2 441.8,666.3 443.3,667.5 444.8,668.6 446.3,669.7 447.9,670.8 449.4,671.9 450.9,673.1 452.4,674.2 454.0,675.3 455.5,676.4 457.0,677.5 458.5,678.7 460.1,679.8 461.6,680.9 463.1,682.0 464.6,683.2 466.2,684.2 467.7,685.2 469.2,686.2 470.8,687.3 472.3,688.3 473.8,689.3 475.3,690.3 476.9,691.3 478.4,692.3 479.9,693.3 481.4,694.4 483.0,695.4 484.5,696.4 486.0,697.4 487.5,698.5 489.1,699.5 490.6,700.5 492.1,701.5 493.6,702.6 495.2,703.4 496.7,704.3 498.2,705.1 499.8,706.0 501.3,706.9 502.8,707.7 504.3,708.6 505.9,709.4 507.4,710.3 508.9,711.1 510.4,712.0 512.0,712.9 513.5,713.7 515.0,714.6 516.5,715.5 518.1,716.3 519.6,717.2 521.1,718.1 522.6,718.9 524.2,719.7 525.7,720.5 527.2,721.2 528.7,722.0 530.3,722.8 531.8,723.5 533.3,724.3 534.9,725.1 536.4,725.8 537.9,726.6 539.4,727.4 541.0,728.1 542.5,729.0 544.0,729.9 545.5,730.8 547.1,731.7 548.6,732.6 550.1,733.5 551.6,734.4 553.2,735.3 554.7,736.2 556.2,737.1 557.7,738.0 559.3,739.0 560.8,739.9 562.3,740.7 563.9,741.5 565.4,742.4 566.9,743.2 568.4,744.1 570.0,744.9 571.5,745.8 573.0,746.6 574.5,747.5 576.1,748.3 577.6,749.2 579.1,750.0 580.6,750.8 582.2,751.6 583.7,752.3 585.2,753.1 586.7,753.9 588.3,754.6 589.8,755.4 591.3,756.1 592.9,756.9 594.4,757.7 595.9,758.4 597.4,759.2 599.0,759.9 600.5,760.7 602.0,761.4 603.5,762.2 605.1,762.9 606.6,763.7 608.1,764.4 609.6,765.1 611.2,765.9 612.7,766.6 614.2,767.4 615.7,768.1 617.3,768.7 618.8,769.2 620.3,769.6 621.9,770.0 623.4,770.5 624.9,770.9 626.4,771.3 628.0,771.8 629.5,772.2 631.0,772.6 632.5,773.1 634.1,773.5 635.6,774.0 637.1,774.4 638.6,774.9 640.2,775.4 641.7,775.9 643.2,776.4 644.7,776.8 646.3,777.3 647.8,777.8 649.3,778.3 650.8,778.8 652.4,779.2 653.9,779.7 655.4,780.2 657.0,780.7 658.5,781.1 660.0,781.6 661.5,782.1 663.1,782.6 664.6,783.1 666.1,783.5 667.6,784.0 669.2,784.5 670.7,785.0 672.2,785.5 673.7,785.9 675.3,786.4 676.8,786.9 678.3,787.4 679.8,787.8 681.4,788.3 682.9,788.8 684.4,789.3 686.0,789.8 687.5,790.2 689.0,790.7 690.5,791.2 692.1,791.7 693.6,792.2 695.1,792.6 696.6,793.1 698.2,793.6 699.7,794.1 701.2,794.6 702.7,795.1 704.3,795.7 705.8,796.2 707.3,796.8 708.8,797.3 710.4,797.8 711.9,798.4 713.4,798.9 715.0,799.5 716.5,800.0 718.0,800.5 719.5,801.1 721.1,801.6 722.6,802.2 724.1,802.7 725.6,803.2 727.2,803.8 728.7,804.3 730.2,804.9 731.7,805.4 733.3,805.9 734.8,806.5 736.3,807.0 737.8,807.6 739.4,808.1 740.9,808.6 742.4,809.2 744.0,809.7 745.5,810.3 747.0,810.8 748.5,811.3 750.1,811.9 751.6,812.4 753.1,813.0 754.6,813.5 756.2,814.1 757.7,814.6 759.2,815.2 760.7,815.7 762.3,816.3 763.8,816.8 765.3,817.4 766.8,817.9 768.4,818.4 769.9,819.0 771.4,819.5 772.9,820.1 774.5,820.6 776.0,821.2 777.5,821.7 779.1,822.3 780.6,822.8 782.1,823.4 783.6,823.9 785.2,824.5 786.7,825.0 788.2,825.6 789.7,826.1 791.3,826.7 792.8,827.2 794.3,827.8 795.8,828.3 797.4,828.9 798.9,829.4 800.4,829.9 801.9,830.4 803.5,830.9 805.0,831.4 806.5,831.8 808.1,832.3 809.6,832.8 811.1,833.3 812.6,833.7 814.2,834.2 815.7,834.7 817.2,835.2 818.7,835.6 820.3,836.1 821.8,836.6 823.3,837.1 824.8,837.5 826.4,838.0 827.9,838.5 829.4,838.9 830.9,839.4 832.5,839.9 834.0,840.4 835.5,840.8 837.1,841.3 838.6,841.8 840.1,842.3 841.6,842.7 843.2,843.2 844.7,843.7 846.2,844.2 847.7,844.6 849.3,845.1 850.8,845.6 852.3,846.1 853.8,846.5 855.4,847.0 856.9,847.5 858.4,847.9 859.9,848.4 861.5,848.9 863.0,849.4 864.5,849.8 866.1,850.3 867.6,850.8 869.1,851.3 870.6,851.7 872.2,852.2 873.7,852.7 875.2,853.2 876.7,853.6 878.3,854.1 879.8,854.6 881.3,855.1 882.8,855.5 884.4,856.0 885.9,856.5 887.4,856.9 888.9,857.4 890.5,857.9 892.0,858.4 893.5,858.8 895.0,859.3 896.6,859.8 898.1,860.3 899.6,860.7 901.2,861.2 902.7,861.7 904.2,862.1 905.7,862.6 907.3,863.1 908.8,863.5 910.3,864.0 911.8,864.4 913.4,864.9 914.9,865.4 916.4,865.8 917.9,866.3 919.5,866.8 921.0,867.2 922.5,867.7 924.0,868.2 925.6,868.6 927.1,869.1 928.6,869.5 930.2,870.0 931.7,870.5 933.2,870.9 934.7,871.4 936.3,871.9 937.8,872.3 939.3,872.8 940.8,873.3 942.4,873.7 943.9,874.2 945.4,874.6 946.9,875.1 948.5,875.6 950.0,876.0 951.5,876.5 953.0,877.0 954.6,877.4 956.1,877.9 957.6,878.4 959.2,878.8 960.7,879.3 962.2,879.7 963.7,880.2 965.3,880.7 966.8,881.1 968.3,881.6 969.8,882.1 971.4,882.5 972.9,883.0 974.4,883.5 975.9,883.9 977.5,884.4 979.0,884.8 980.5,885.3 982.0,885.8 983.6,886.2 985.1,886.7 986.6,887.2 988.2,887.6 989.7,888.1 991.2,888.6 992.7,889.0 994.3,889.5 995.8,889.9 997.3,890.4 998.8,890.9 1000.4,891.3 1001.9,891.7 1003.4,892.1 1004.9,892.5 1006.5,892.9 1008.0,893.3 1009.5,893.7 1011.0,894.1 1012.6,894.5 1014.1,894.9 1015.6,895.3 1017.1,895.7 1018.7,896.1 1020.2,896.5 1021.7,896.9 1023.3,897.3 1024.8,897.7 1026.3,898.1 1027.8,898.5 1029.4,898.9 1030.9,899.3 1032.4,899.7 1033.9,900.1 1035.5,900.5 1037.0,900.9 1038.5,901.3 1040.0,901.7 1041.6,902.1 1043.1,902.5 1044.6,902.9 1046.1,903.3 1047.7,903.7 1049.2,904.1 1050.7,904.5 1052.3,904.9 1053.8,905.3 1055.3,905.7 1056.8,906.1 1058.4,906.5 1059.9,906.9 1061.4,907.3 1062.9,907.7 1064.5,908.1 1066.0,908.5 1067.5,908.9 1069.0,909.3 1070.6,909.7 1072.1,910.1 1073.6,910.5 1075.1,910.9 1076.7,911.3 1078.2,911.7 1079.7,912.1 1081.3,912.5 1082.8,912.9 1084.3,913.3 1085.8,913.7 1087.4,914.1 1088.9,914.5 1090.4,914.9 1091.9,915.3 1093.5,915.7 1095.0,916.1 1096.5,916.5 1098.0,916.9 1099.6,917.3 1101.1,917.7 1102.6,918.1 1104.1,918.5 1105.7,918.9 1107.2,919.2 1108.7,919.6 1110.2,920.0 1111.8,920.4 1113.3,920.8 1114.8,921.2 1116.4,921.6 1117.9,922.0 1119.4,922.4 1120.9,922.8 1122.5,923.1 1124.0,923.5 1125.5,923.9 1127.0,924.3 1128.6,924.7 1130.1,925.1 1131.6,925.5 1133.1,925.9 1134.7,926.3 1136.2,926.7 1137.7,927.1 1139.2,927.4 1140.8,927.8 1142.3,928.2 1143.8,928.6 1145.4,929.0 1146.9,929.4 1148.4,929.8 1149.9,930.2 1151.5,930.6 1153.0,931.0 1154.5,931.4 1156.0,931.7 1157.6,932.1 1159.1,932.5 1160.6,932.9 1162.1,933.3 1163.7,933.7 1165.2,934.1 1166.7,934.5 1168.2,934.9 1169.8,935.3 1171.3,935.7 1172.8,936.0 1174.4,936.4 1175.9,936.8 1177.4,937.2 1178.9,937.6 1180.5,938.0 1182.0,938.4 1183.5,938.8 1185.0,939.1 1186.6,939.4 1188.1,939.7 1189.6,940.0 1191.1,940.3 1192.7,940.6 1194.2,940.9 1195.7,941.2 1197.2,941.5 1198.8,941.8 1200.3,942.1 1201.8,942.4 1203.4,942.7 1204.9,943.0 1206.4,943.3 1207.9,943.6 1209.5,943.9 1211.0,944.2 1212.5,944.5 1214.0,944.8 1215.6,945.1 1217.1,945.4 1218.6,945.7 1220.1,946.0 1221.7,946.3 1223.2,946.6 1224.7,946.9 1226.2,947.2 1227.8,947.5 1229.3,947.8 1230.8,948.1 1232.4,948.4 1233.9,948.7 1235.4,949.0 1236.9,949.3 1238.5,949.6 1240.0,949.9 1241.5,950.2 1243.0,950.5 1244.6,950.8 1246.1,951.1 1247.6,951.4 1249.1,951.7 1250.7,952.1 1252.2,952.4 1253.7,952.7 1255.2,953.0 1256.8,953.3 1258.3,953.6 1259.8,953.9 1261.3,954.2 1262.9,954.5 1264.4,954.8 1265.9,955.1 1267.5,955.4 1269.0,955.7 1270.5,956.0 1272.0,956.3 1273.6,956.6 1275.1,956.9 1276.6,957.2 1278.1,957.5 1279.7,957.8 1281.2,958.1 1282.7,958.4 1284.2,958.7 1285.8,959.0 1287.3,959.3 1288.8,959.6 1290.3,959.9 1291.9,960.2 1293.4,960.5 1294.9,960.8 1296.5,961.1 1298.0,961.4 1299.5,961.7 1301.0,962.0 1302.6,962.2 1304.1,962.4 1305.6,962.7 1307.1,962.9 1308.7,963.2 1310.2,963.4 1311.7,963.6 1313.2,963.9 1314.8,964.1 1316.3,964.4 1317.8,964.6 1319.3,964.8 1320.9,965.1 1322.4,965.3 1323.9,965.6 1325.5,965.8 1327.0,966.0 1328.5,966.3 1330.0,966.5 1331.6,966.8 1333.1,967.0 1334.6,967.2 1336.1,967.5 1337.7,967.7 1339.2,968.0 1340.7,968.2 1342.2,968.4 1343.8,968.7 1345.3,968.9 1346.8,969.2 1348.3,969.4 1349.9,969.6 1351.4,969.9 1352.9,970.1 1354.5,970.3 1356.0,970.6 1357.5,970.8 1359.0,971.1 1360.6,971.3 1362.1,971.5 1363.6,971.8 1365.1,972.0 1366.7,972.3 1368.2,972.5 1369.7,972.7 1371.2,973.0 1372.8,973.2 1374.3,973.5 1375.8,973.7 1377.3,973.9 1378.9,974.2 1380.4,974.4 1381.9,974.7 1383.4,974.9 1385.0,975.1 1386.5,975.4 1388.0,975.6 1389.6,975.9 1391.1,976.1 1392.6,976.3 1394.1,976.6 1395.7,976.8 1397.2,977.1 1398.7,977.3 1400.2,977.5 1401.8,977.8 1403.3,978.0 1404.8,978.2 1406.3,978.4 1407.9,978.6 1409.4,978.9 1410.9,979.1 1412.4,979.3 1414.0,979.5 1415.5,979.7 1417.0,980.0 1418.6,980.2 1420.1,980.4 1421.6,980.6 1423.1,980.8 1424.7,981.1 1426.2,981.3 1427.7,981.5 1429.2,981.7 1430.8,981.9 1432.3,982.2 1433.8,982.4 1435.3,982.6 1436.9,982.8 1438.4,983.0 1439.9,983.3 1441.4,983.5 1443.0,983.7 1444.5,983.9 1446.0,984.1 1447.6,984.4 1449.1,984.6 1450.6,984.8 1452.1,985.0 1453.7,985.2 1455.2,985.5 1456.7,985.7 1458.2,985.9 1459.8,986.1 1461.3,986.3 1462.8,986.6 1464.3,986.8 1465.9,987.0 1467.4,987.2 1468.9,987.4 1470.4,987.7 1472.0,987.9 1473.5,988.1 1475.0,988.3 1476.6,988.5 1478.1,988.8 1479.6,989.0 1481.1,989.2 1482.7,989.4 1484.2,989.6 1485.7,989.9 1487.2,990.1 1488.8,990.3 1490.3,990.5 1491.8,990.7 1493.3,991.0 1494.9,991.2 1496.4,991.4 1497.9,991.6 1499.4,991.8 1501.0,992.1 1502.5,992.3 1504.0,992.5 1505.5,992.7 1507.1,992.9 1508.6,993.2 1510.1,993.4 1511.7,993.6 1513.2,993.8 1514.7,994.0 1516.2,994.3 1517.8,994.5 1519.3,994.7 1520.8,994.9 1522.3,995.1 1523.9,995.4 1525.4,995.6 1526.9,995.8 1528.4,996.0 1530.0,996.2 1531.5,996.5 1533.0,996.7 1534.5,996.9 1536.1,997.1 1537.6,997.3 1539.1,997.6 1540.7,997.8 1542.2,998.0 1543.7,998.2 1545.2,998.4 1546.8,998.7 1548.3,998.9 1549.8,999.1 1551.3,999.3 1552.9,999.5 1554.4,999.8 1555.9,1000.0 1557.4,1000.2 1559.0,1000.4 1560.5,1000.6 1562.0,1000.9 1563.5,1001.1 1565.1,1001.3 1566.6,1001.5 1568.1,1001.7 1569.7,1002.0 1571.2,1002.2 1572.7,1002.4 1574.2,1002.6 1575.8,1002.9 1577.3,1003.1 1578.8,1003.3 1580.3,1003.5 1581.9,1003.7 1583.4,1004.0 1584.9,1004.2 1586.4,1004.4 1588.0,1004.6 1589.5,1004.7 1591.0,1004.9 1592.5,1005.1 1594.1,1005.2 1595.6,1005.4 1597.1,1005.6 1598.7,1005.7 1600.2,1005.9 1601.7,1006.1 1603.2,1006.2 1604.8,1006.4 1606.3,1006.6 1607.8,1006.7 1609.3,1006.9 1610.9,1007.1 1612.4,1007.2 1613.9,1007.4 1615.4,1007.6 1617.0,1007.7 1618.5,1007.9 1620.0,1008.1 1621.5,1008.2 1623.1,1008.4 1624.6,1008.6 1626.1,1008.7 1627.6,1008.9 1629.2,1009.1 1630.7,1009.2 1632.2,1009.4 1633.8,1009.6 1635.3,1009.7 1636.8,1009.9 1638.3,1010.1 1639.9,1010.2 1641.4,1010.4 1642.9,1010.6 1644.4,1010.7 1646.0,1010.9 1647.5,1011.1 1649.0,1011.2 1650.5,1011.4 1652.1,1011.6 1653.6,1011.7 1655.1,1011.9 1656.6,1012.1 1658.2,1012.2 1659.7,1012.4 1661.2,1012.6 1662.8,1012.7 1664.3,1012.9 1665.8,1013.1 1667.3,1013.2 1668.9,1013.4 1670.4,1013.6 1671.9,1013.7 1673.4,1013.9 1675.0,1014.1 1676.5,1014.2 1678.0,1014.4 1679.5,1014.6 1681.1,1014.8 1682.6,1014.9 1684.1,1015.1 1685.6,1015.3 1687.2,1015.4 1688.7,1015.6 1690.2,1015.8 1691.8,1015.9 1693.3,1016.1 1694.8,1016.3 1696.3,1016.4 1697.9,1016.6 1699.4,1016.8 1700.9,1016.9 1702.4,1017.1 1704.0,1017.3 1705.5,1017.4 1707.0,1017.6 1708.5,1017.8 1710.1,1017.9 1711.6,1018.1 1713.1,1018.3 1714.6,1018.4 1716.2,1018.6 1717.7,1018.8 1719.2,1018.9 1720.8,1019.1 1722.3,1019.3 1723.8,1019.4 1725.3,1019.6 1726.9,1019.8 1728.4,1019.9 1729.9,1020.1 1731.4,1020.3 1733.0,1020.4 1734.5,1020.6 1736.0,1020.8 1737.5,1020.9 1739.1,1021.1 1740.6,1021.3 1742.1,1021.4 1743.6,1021.6 1745.2,1021.8 1746.7,1021.9 1748.2,1022.1 1749.7,1022.3 1751.3,1022.4 1752.8,1022.6 1754.3,1022.8 1755.9,1022.9 1757.4,1023.1 1758.9,1023.3 1760.4,1023.4 1762.0,1023.6 1763.5,1023.8 1765.0,1023.9 1766.5,1024.1 1768.1,1024.3 1769.6,1024.4 1771.1,1024.6 1772.6,1024.8 1774.2,1024.9 1775.7,1025.1 1777.2,1025.3 1778.7,1025.4 1780.3,1025.6 1781.8,1025.8 1783.3,1025.9 1784.9,1026.1 1786.4,1026.3 1787.9,1026.4" fill="none" stroke="#f00" stroke-width="3.4" stroke-linejoin="round" marker-start="url(#mMPRP)" marker-mid="url(#mMPRP)" marker-end="url(#mMPRP)"/>
<polyline points="196.0,83.5 197.6,90.0 199.1,95.4 200.6,101.2 202.1,106.0 203.7,115.3 205.2,127.0 206.7,139.4 208.2,149.0 209.8,157.1 211.3,162.5 212.8,168.0 214.3,173.4 215.9,178.9 217.4,184.3 218.9,192.9 220.4,201.5 222.0,210.1 223.5,218.7 225.0,227.7 226.6,236.7 228.1,245.7 229.6,253.9 231.1,262.5 232.7,271.5 234.2,280.6 235.7,288.3 237.2,295.0 238.8,302.1 240.3,307.4 241.8,313.6 243.3,319.4 244.9,325.1 246.4,330.3 247.9,339.9 249.4,349.5 251.0,358.1 252.5,366.2 254.0,372.9 255.6,379.6 257.1,385.8 258.6,391.5 260.1,396.8 261.7,402.1 263.2,405.9 264.7,409.2 266.2,412.6 267.8,415.9 269.3,418.3 270.8,421.2 272.3,423.5 273.9,452.0 275.4,458.9 276.9,463.7 278.4,466.3 280.0,468.8 281.5,471.4 283.0,473.9 284.5,476.5 286.1,479.0 287.6,481.6 289.1,484.1 290.7,489.5 292.2,495.6 293.7,501.6 295.2,506.0 296.8,508.2 298.3,510.4 299.8,512.6 301.3,514.8 302.9,517.0 304.4,519.1 305.9,521.3 307.4,523.5 309.0,525.7 310.5,529.0 312.0,534.6 313.5,540.3 315.1,544.1 316.6,545.8 318.1,547.5 319.7,549.2 321.2,550.9 322.7,552.6 324.2,554.3 325.8,556.0 327.3,557.6 328.8,560.7 330.3,564.3 331.9,567.8 333.4,569.7 334.9,571.2 336.4,572.7 338.0,574.3 339.5,575.8 341.0,577.3 342.5,578.8 344.1,580.4 345.6,582.0 347.1,583.8 348.7,585.7 350.2,587.5 351.7,589.4 353.2,591.3 354.8,593.1 356.3,595.0 357.8,596.8 359.3,598.7 360.9,600.5 362.4,602.3 363.9,604.1 365.4,605.9 367.0,607.7 368.5,609.5 370.0,611.3 371.5,613.2 373.1,615.0 374.6,616.8 376.1,618.3 377.6,619.9 379.2,621.4 380.7,622.9 382.2,624.4 383.8,626.0 385.3,627.5 386.8,629.0 388.3,630.5 389.9,632.1 391.4,633.5 392.9,634.9 394.4,636.3 396.0,637.6 397.5,639.0 399.0,640.4 400.5,641.8 402.1,643.1 403.6,644.5 405.1,645.9 406.6,647.1 408.2,648.2 409.7,649.3 411.2,650.4 412.8,651.5 414.3,652.6 415.8,653.7 417.3,654.8 418.9,656.0 420.4,657.1 421.9,658.2 423.4,659.6 425.0,661.0 426.5,662.4 428.0,663.8 429.5,665.2 431.1,666.5 432.6,667.9 434.1,669.3 435.6,670.7 437.2,672.0 438.7,673.1 440.2,674.2 441.8,675.3 443.3,676.5 444.8,677.6 446.3,678.7 447.9,679.8 449.4,680.9 450.9,682.1 452.4,683.2 454.0,684.3 455.5,685.4 457.0,686.5 458.5,687.7 460.1,688.8 461.6,689.9 463.1,691.0 464.6,692.2 466.2,693.2 467.7,694.2 469.2,695.2 470.8,696.3 472.3,697.3 473.8,698.3 475.3,699.3 476.9,700.3 478.4,701.3 479.9,702.3 481.4,703.4 483.0,704.4 484.5,705.4 486.0,706.4 487.5,707.5 489.1,708.5 490.6,709.5 492.1,710.5 493.6,711.6 495.2,712.4 496.7,713.3 498.2,714.1 499.8,715.0 501.3,715.9 502.8,716.7 504.3,717.6 505.9,718.4 507.4,719.3 508.9,720.1 510.4,721.0 512.0,721.9 513.5,722.7 515.0,723.6 516.5,724.5 518.1,725.3 519.6,726.2 521.1,727.1 522.6,727.9 524.2,728.7 525.7,729.5 527.2,730.2 528.7,731.0 530.3,731.8 531.8,732.5 533.3,733.3 534.9,734.1 536.4,734.8 537.9,735.6 539.4,736.4 541.0,737.1 542.5,738.0 544.0,738.9 545.5,739.8 547.1,740.7 548.6,741.6 550.1,742.5 551.6,743.4 553.2,744.3 554.7,745.2 556.2,746.1 557.7,747.0 559.3,748.0 560.8,748.9 562.3,749.7 563.9,750.5 565.4,751.4 566.9,752.2 568.4,753.1 570.0,753.9 571.5,754.8 573.0,755.6 574.5,756.5 576.1,757.3 577.6,758.2 579.1,759.0 580.6,759.8 582.2,760.6 583.7,761.3 585.2,762.1 586.7,762.9 588.3,763.6 589.8,764.4 591.3,765.1 592.9,765.9 594.4,766.7 595.9,767.4 597.4,768.2 599.0,768.9 600.5,769.7 602.0,770.4 603.5,771.2 605.1,771.9 606.6,772.7 608.1,773.4 609.6,774.1 611.2,774.9 612.7,775.6 614.2,776.4 615.7,777.1 617.3,777.6 618.8,777.9 620.3,778.1 621.9,778.3 623.4,778.6 624.9,778.8 626.4,779.0 628.0,779.3 629.5,779.5 631.0,779.7 632.5,780.0 634.1,780.2 635.6,780.4 637.1,780.7 638.6,780.9 640.2,781.1 641.7,781.4 643.2,781.6 644.7,781.8 646.3,782.1 647.8,782.3 649.3,782.5 650.8,782.8 652.4,783.0 653.9,783.2 655.4,783.5 657.0,783.7 658.5,783.9 660.0,784.2 661.5,784.4 663.1,784.6 664.6,784.9 666.1,785.1 667.6,785.3 669.2,785.6 670.7,785.8 672.2,786.0 673.7,786.3 675.3,786.5 676.8,786.7 678.3,787.0 679.8,787.2 681.4,787.4 682.9,787.7 684.4,787.9 686.0,788.1 687.5,788.4 689.0,788.6 690.5,788.8 692.1,789.1 693.6,789.3 695.1,789.5 696.6,789.8 698.2,790.0 699.7,790.4 701.2,790.8 702.7,791.2 704.3,791.7 705.8,792.1 707.3,792.5 708.8,793.0 710.4,793.4 711.9,793.8 713.4,794.3 715.0,794.7 716.5,795.1 718.0,795.6 719.5,796.0 721.1,796.4 722.6,796.9 724.1,797.3 725.6,797.7 727.2,798.2 728.7,798.6 730.2,799.0 731.7,799.5 733.3,799.9 734.8,800.3 736.3,800.8 737.8,801.2 739.4,801.6 740.9,802.1 742.4,802.5 744.0,802.9 745.5,803.4 747.0,803.8 748.5,804.2 750.1,804.7 751.6,805.1 753.1,805.6 754.6,806.0 756.2,806.4 757.7,806.9 759.2,807.3 760.7,807.7 762.3,808.2 763.8,808.6 765.3,809.1 766.8,809.5 768.4,810.0 769.9,810.4 771.4,810.8 772.9,811.3 774.5,811.7 776.0,812.2 777.5,812.6 779.1,813.1 780.6,813.5 782.1,814.0 783.6,814.4 785.2,814.8 786.7,815.3 788.2,815.7 789.7,816.2 791.3,816.6 792.8,817.1 794.3,817.5 795.8,817.9 797.4,818.4 798.9,818.8 800.4,819.3 801.9,819.7 803.5,820.2 805.0,820.6 806.5,821.0 808.1,821.5 809.6,821.9 811.1,822.4 812.6,822.8 814.2,823.1 815.7,823.5 817.2,823.8 818.7,824.2 820.3,824.6 821.8,824.9 823.3,825.3 824.8,825.6 826.4,826.0 827.9,826.3 829.4,826.7 830.9,827.1 832.5,827.4 834.0,827.8 835.5,828.1 837.1,828.5 838.6,828.8 840.1,829.2 841.6,829.6 843.2,829.9 844.7,830.3 846.2,830.6 847.7,831.0 849.3,831.3 850.8,831.7 852.3,832.1 853.8,832.4 855.4,832.8 856.9,833.1 858.4,833.5 859.9,833.8 861.5,834.2 863.0,834.6 864.5,834.9 866.1,835.3 867.6,835.6 869.1,836.0 870.6,836.3 872.2,836.7 873.7,837.1 875.2,837.4 876.7,837.8 878.3,838.1 879.8,838.5 881.3,838.8 882.8,839.2 884.4,839.6 885.9,839.9 887.4,840.3 888.9,840.6 890.5,841.0 892.0,841.3 893.5,841.7 895.0,842.1 896.6,842.4 898.1,842.8 899.6,843.1 901.2,843.5 902.7,843.8 904.2,844.2 905.7,844.6 907.3,844.9 908.8,845.3 910.3,845.6 911.8,846.0 913.4,846.3 914.9,846.7 916.4,847.1 917.9,847.4 919.5,847.8 921.0,848.1 922.5,848.5 924.0,848.8 925.6,849.2 927.1,849.6 928.6,849.9 930.2,850.3 931.7,850.6 933.2,851.0 934.7,851.3 936.3,851.7 937.8,852.1 939.3,852.4 940.8,852.8 942.4,853.1 943.9,853.5 945.4,853.8 946.9,854.2 948.5,854.6 950.0,854.9 951.5,855.3 953.0,855.6 954.6,856.0 956.1,856.3 957.6,856.7 959.2,857.1 960.7,857.4 962.2,857.8 963.7,858.1 965.3,858.5 966.8,858.8 968.3,859.2 969.8,859.6 971.4,859.9 972.9,860.3 974.4,860.6 975.9,861.0 977.5,861.3 979.0,861.7 980.5,862.1 982.0,862.4 983.6,862.8 985.1,863.1 986.6,863.5 988.2,863.8 989.7,864.2 991.2,864.6 992.7,864.9 994.3,865.3 995.8,865.6 997.3,866.0 998.8,866.3 1000.4,866.7 1001.9,867.1 1003.4,867.4 1004.9,867.8 1006.5,868.1 1008.0,868.5 1009.5,868.8 1011.0,869.2 1012.6,869.5 1014.1,869.8 1015.6,870.1 1017.1,870.4 1018.7,870.7 1020.2,870.9 1021.7,871.2 1023.3,871.5 1024.8,871.8 1026.3,872.1 1027.8,872.4 1029.4,872.7 1030.9,872.9 1032.4,873.2 1033.9,873.5 1035.5,873.8 1037.0,874.1 1038.5,874.4 1040.0,874.6 1041.6,874.9 1043.1,875.2 1044.6,875.5 1046.1,875.8 1047.7,876.1 1049.2,876.4 1050.7,876.6 1052.3,876.9 1053.8,877.2 1055.3,877.5 1056.8,877.8 1058.4,878.1 1059.9,878.3 1061.4,878.6 1062.9,878.9 1064.5,879.2 1066.0,879.5 1067.5,879.8 1069.0,880.0 1070.6,880.3 1072.1,880.6 1073.6,880.9 1075.1,881.2 1076.7,881.5 1078.2,881.8 1079.7,882.0 1081.3,882.3 1082.8,882.6 1084.3,882.9 1085.8,883.2 1087.4,883.5 1088.9,883.7 1090.4,884.0 1091.9,884.3 1093.5,884.6 1095.0,884.9 1096.5,885.2 1098.0,885.5 1099.6,885.7 1101.1,886.0 1102.6,886.3 1104.1,886.6 1105.7,886.9 1107.2,887.2 1108.7,887.4 1110.2,887.7 1111.8,888.0 1113.3,888.3 1114.8,888.6 1116.4,888.9 1117.9,889.2 1119.4,889.4 1120.9,889.7 1122.5,890.0 1124.0,890.3 1125.5,890.6 1127.0,890.9 1128.6,891.1 1130.1,891.4 1131.6,891.7 1133.1,892.0 1134.7,892.3 1136.2,892.6 1137.7,892.8 1139.2,893.1 1140.8,893.4 1142.3,893.7 1143.8,894.0 1145.4,894.3 1146.9,894.6 1148.4,894.8 1149.9,895.1 1151.5,895.4 1153.0,895.7 1154.5,896.0 1156.0,896.3 1157.6,896.5 1159.1,896.8 1160.6,897.1 1162.1,897.4 1163.7,897.7 1165.2,898.0 1166.7,898.3 1168.2,898.5 1169.8,898.8 1171.3,899.1 1172.8,899.4 1174.4,899.7 1175.9,900.0 1177.4,900.2 1178.9,900.5 1180.5,900.8 1182.0,901.1 1183.5,901.4 1185.0,901.7 1186.6,902.0 1188.1,902.2 1189.6,902.5 1191.1,902.8 1192.7,903.1 1194.2,903.4 1195.7,903.7 1197.2,903.9 1198.8,904.2 1200.3,904.5 1201.8,904.8 1203.4,905.1 1204.9,905.4 1206.4,905.6 1207.9,905.9 1209.5,906.2 1211.0,906.5 1212.5,906.7 1214.0,906.9 1215.6,907.2 1217.1,907.4 1218.6,907.7 1220.1,907.9 1221.7,908.1 1223.2,908.4 1224.7,908.6 1226.2,908.9 1227.8,909.1 1229.3,909.3 1230.8,909.6 1232.4,909.8 1233.9,910.1 1235.4,910.3 1236.9,910.5 1238.5,910.8 1240.0,911.0 1241.5,911.3 1243.0,911.5 1244.6,911.7 1246.1,912.0 1247.6,912.2 1249.1,912.4 1250.7,912.7 1252.2,912.9 1253.7,913.2 1255.2,913.4 1256.8,913.6 1258.3,913.9 1259.8,914.1 1261.3,914.4 1262.9,914.6 1264.4,914.8 1265.9,915.1 1267.5,915.3 1269.0,915.6 1270.5,915.8 1272.0,916.0 1273.6,916.3 1275.1,916.5 1276.6,916.8 1278.1,917.0 1279.7,917.2 1281.2,917.5 1282.7,917.7 1284.2,918.0 1285.8,918.2 1287.3,918.4 1288.8,918.7 1290.3,918.9 1291.9,919.1 1293.4,919.4 1294.9,919.6 1296.5,919.9 1298.0,920.1 1299.5,920.3 1301.0,920.6 1302.6,920.8 1304.1,921.1 1305.6,921.3 1307.1,921.5 1308.7,921.8 1310.2,922.0 1311.7,922.3 1313.2,922.5 1314.8,922.7 1316.3,923.0 1317.8,923.2 1319.3,923.5 1320.9,923.7 1322.4,923.9 1323.9,924.2 1325.5,924.4 1327.0,924.6 1328.5,924.9 1330.0,925.1 1331.6,925.4 1333.1,925.6 1334.6,925.8 1336.1,926.1 1337.7,926.3 1339.2,926.5 1340.7,926.8 1342.2,927.0 1343.8,927.2 1345.3,927.5 1346.8,927.7 1348.3,928.0 1349.9,928.2 1351.4,928.4 1352.9,928.7 1354.5,928.9 1356.0,929.1 1357.5,929.4 1359.0,929.6 1360.6,929.9 1362.1,930.1 1363.6,930.3 1365.1,930.6 1366.7,930.8 1368.2,931.0 1369.7,931.3 1371.2,931.5 1372.8,931.7 1374.3,932.0 1375.8,932.2 1377.3,932.5 1378.9,932.7 1380.4,932.9 1381.9,933.2 1383.4,933.4 1385.0,933.6 1386.5,933.9 1388.0,934.1 1389.6,934.4 1391.1,934.6 1392.6,934.8 1394.1,935.1 1395.7,935.3 1397.2,935.5 1398.7,935.8 1400.2,936.0 1401.8,936.2 1403.3,936.5" fill="none" stroke="#f00" stroke-width="3.4" stroke-linejoin="round" marker-start="url(#mNT)" marker-mid="url(#mNT)" marker-end="url(#mNT)"/>
<polyline points="196.0,83.4 197.6,96.8 199.1,104.5 200.6,136.7 202.1,147.6 203.7,188.5 205.2,196.6 206.7,206.5 208.2,216.8 209.8,228.7 211.3,229.5 212.8,235.6 214.3,250.5 215.9,288.6 217.4,296.3 218.9,302.2 220.4,319.1 222.0,343.7 223.5,366.4 225.0,395.6 226.6,400.6 228.1,405.0 229.6,409.4 231.1,412.4 232.7,420.6 234.2,442.4 235.7,452.0 237.2,461.6 238.8,488.5 240.3,490.6 241.8,503.0 243.3,515.4 244.9,527.8 246.4,533.5 247.9,538.2 249.4,548.2 251.0,553.5 252.5,558.0 254.0,561.1 255.6,566.4 257.1,571.7 258.6,573.5 260.1,576.1 261.7,578.6 263.2,581.2 264.7,583.7 266.2,586.3 267.8,588.8 269.3,591.4 270.8,595.1 272.3,599.9 273.9,604.6 275.4,609.4 276.9,614.2 278.4,618.9 280.0,622.9 281.5,626.8 283.0,630.8 284.5,634.7 286.1,639.3 287.6,644.6 289.1,649.9 290.7,655.2 292.2,660.5 293.7,665.2 295.2,669.0 296.8,672.8 298.3,676.7 299.8,679.5 301.3,682.0 302.9,684.4 304.4,686.9 305.9,689.4 307.4,691.9 309.0,694.3 310.5,696.8 312.0,699.5 313.5,702.4 315.1,705.3 316.6,708.2 318.1,711.0 319.7,713.9 321.2,720.3 322.7,726.9 324.2,730.7 325.8,731.5 327.3,732.3 328.8,733.2 330.3,734.0 331.9,734.8 333.4,735.6 334.9,736.6 336.4,737.8 338.0,738.9 339.5,740.1 341.0,741.2 342.5,742.3 344.1,743.5 345.6,744.6 347.1,745.8 348.7,746.9 350.2,748.4 351.7,750.2 353.2,752.0 354.8,753.8 356.3,755.6 357.8,757.4 359.3,759.2 360.9,761.4 362.4,763.8 363.9,766.3 365.4,768.7 367.0,771.1 368.5,773.5 370.0,775.9 371.5,778.1 373.1,778.6 374.6,779.0 376.1,779.4 377.6,779.9 379.2,780.3 380.7,780.7 382.2,781.2 383.8,781.6 385.3,782.1 386.8,782.5 388.3,782.9 389.9,783.4 391.4,783.8 392.9,784.2 394.4,784.7 396.0,785.1 397.5,785.5 399.0,786.7 400.5,788.3 402.1,789.9 403.6,791.5 405.1,793.2 406.6,794.8 408.2,796.4 409.7,798.3 411.2,800.7 412.8,803.2 414.3,805.6 415.8,807.6 417.3,809.2 418.9,810.8 420.4,812.3 421.9,813.9 423.4,815.5 425.0,817.3 426.5,819.2 428.0,821.0 429.5,822.8 431.1,824.7 432.6,826.5 434.1,828.4 435.6,830.3 437.2,832.1 438.7,834.0 440.2,835.9 441.8,837.8 443.3,839.6 444.8,840.6 446.3,841.0 447.9,841.4 449.4,841.7 450.9,842.1 452.4,842.5 454.0,842.9 455.5,843.2 457.0,843.6 458.5,844.0 460.1,844.7 461.6,845.4 463.1,846.0 464.6,846.7 466.2,847.4 467.7,848.0 469.2,848.7 470.8,849.3 472.3,850.0 473.8,850.7 475.3,851.3 476.9,852.0 478.4,852.7 479.9,853.3 481.4,854.0 483.0,854.6 484.5,855.3 486.0,856.6 487.5,858.9 489.1,861.1 490.6,863.4 492.1,865.7 493.6,867.9 495.2,870.2 496.7,872.3 498.2,873.5 499.8,874.8 501.3,876.1 502.8,877.4 504.3,878.7 505.9,880.0 507.4,881.3 508.9,882.6 510.4,883.9 512.0,885.2 513.5,886.5 515.0,888.2 516.5,889.9 518.1,891.7 519.6,893.4 521.1,895.1 522.6,896.8 524.2,898.5 525.7,900.2 527.2,901.9 528.7,903.7 530.3,905.4 531.8,907.9 533.3,910.5 534.9,913.1 536.4,915.6 537.9,917.3 539.4,919.0 541.0,920.7 542.5,922.5 544.0,924.2 545.5,925.9 547.1,927.7 548.6,929.5 550.1,931.4 551.6,933.2 553.2,934.7 554.7,936.0 556.2,937.2 557.7,938.5 559.3,939.7 560.8,941.1 562.3,943.4 563.9,945.7 565.4,948.0 566.9,949.6 568.4,950.0 570.0,950.4 571.5,950.8 573.0,951.2 574.5,951.5 576.1,951.9 577.6,952.3 579.1,954.2 580.6,957.8 582.2,960.4 583.7,961.8 585.2,963.2 586.7,964.6 588.3,965.9 589.8,967.3 591.3,968.7 592.9,972.4 594.4,978.6 595.9,981.3 597.4,981.7 599.0,982.0 600.5,982.4 602.0,982.7 603.5,983.1 605.1,983.5 606.6,983.8 608.1,984.2 609.6,984.5 611.2,984.9 612.7,985.2 614.2,985.6 615.7,986.0 617.3,986.3 618.8,986.7 620.3,987.0 621.9,987.4 623.4,987.7 624.9,988.1 626.4,988.5 628.0,989.2 629.5,989.9 631.0,990.7 632.5,991.5 634.1,992.2 635.6,993.0 637.1,993.8 638.6,994.5 640.2,995.3 641.7,996.1 643.2,996.9 644.7,997.6 646.3,998.4 647.8,999.7 649.3,1001.0 650.8,1002.4 652.4,1003.8 653.9,1005.1 655.4,1006.5 657.0,1007.6 658.5,1008.6 660.0,1009.7 661.5,1010.8 663.1,1011.9 664.6,1012.9 666.1,1014.0 667.6,1015.8 669.2,1019.1 670.7,1019.1 672.2,1019.1 673.7,1053.5 675.3,1053.5 676.8,1053.8 678.3,1054.1 679.8,1054.4 681.4,1054.7 682.9,1055.7 684.4,1056.6 686.0,1057.6 687.5,1058.5 689.0,1059.2 690.5,1059.3 692.1,1059.4 693.6,1059.5 695.1,1059.7 696.6,1059.8 698.2,1061.5 699.7,1062.9 701.2,1063.4 702.7,1064.0 704.3,1064.5" fill="none" stroke="#00f" stroke-width="3.4" stroke-linejoin="round" marker-start="url(#mIH)" marker-mid="url(#mIH)" marker-end="url(#mIH)"/>
</g>
<g fill="#262626" font-size="48.5">
<text x="194.5" y="1257.8" text-anchor="middle">0</text>
<text x="499.75" y="1257.8" text-anchor="middle">200</text>
<text x="805.0" y="1257.8" text-anchor="middle">400</text>
<text x="1110.25" y="1257.8" text-anchor="middle">600</text>
<text x="1415.5" y="1257.8" text-anchor="middle">800</text>
<text x="1720.75" y="1257.8" text-anchor="middle">1000</text>
<text x="2026.0" y="1257.8" text-anchor="middle">1200</text>
<text x="174.6" y="1208.0" text-anchor="end">-4</text>
<text x="174.6" y="1097.2" text-anchor="end">-2</text>
<text x="174.6" y="986.4" text-anchor="end">0</text>
<text x="174.6" y="875.6" text-anchor="end">2</text>
<text x="174.6" y="764.8" text-anchor="end">4</text>
<text x="174.6" y="654.0" text-anchor="end">6</text>
<text x="174.6" y="543.2" text-anchor="end">8</text>
<text x="174.6" y="432.4" text-anchor="end">10</text>
<text x="174.6" y="321.6" text-anchor="end">12</text>
<text x="174.6" y="210.8" text-anchor="end">14</text>
<text x="174.6" y="100.0" text-anchor="end">16</text>
</g>
<text x="1110.4" y="59.8" text-anchor="middle" font-size="52.7" fill="#000">Comparison of convergence process by different CG algorithms</text>
<text x="1103.2" y="1329.3" text-anchor="middle" font-size="52.8" fill="#262626">Iterative number</text>
<text transform="translate(92 651) rotate(-90)" text-anchor="middle" font-size="52.7" fill="#262626">Cost function log(J)</text>
<rect x="1629.7" y="117.7" width="332.5999999999999" height="488.50000000000006" fill="#fff" stroke="#262626" stroke-width="3"/>
<path d="M1643 153.5H1788" stroke="#000" stroke-width="3" fill="none"/>
<path d="M1700.9 153.5h29.6M1715.7 138.7v29.6M1704.5 142.3l22.4 22.4M1704.5 164.7l22.4 -22.4" stroke="#000" stroke-width="3.6" fill="none"/>
<text x="1798" y="171.0" font-size="43.5" fill="#000">VFR</text>
<path d="M1643 212.9H1788" stroke="#000" stroke-width="4.1" fill="none"/>
<circle cx="1715.7" cy="212.9" r="14.3" stroke="#000" stroke-width="3.6" fill="none"/>
<text x="1798" y="230.4" font-size="43.5" fill="#000">SCG</text>
<path d="M1643 272.5H1788" stroke="#000" stroke-width="3" fill="none"/>
<rect x="1704.0" y="260.8" width="23.4" height="23.4" stroke="#000" stroke-width="3.6" fill="none"/>
<text x="1798" y="290.0" font-size="43.5" fill="#000">HS</text>
<path d="M1643 332.0H1788" stroke="#f00" stroke-width="4.0" fill="none"/>
<path d="M1700.9 332.0h29.6M1715.7 317.2v29.6M1704.5 320.8l22.4 22.4M1704.5 343.2l22.4 -22.4" stroke="#f00" stroke-width="3.6" fill="none"/>
<text x="1798" y="349.5" font-size="43.5" fill="#000">LS</text>
<path d="M1643 391.5H1788" stroke="#f00" stroke-width="3" fill="none"/>
<circle cx="1715.7" cy="391.5" r="14.3" stroke="#f00" stroke-width="3.6" fill="none"/>
<text x="1798" y="409.0" font-size="43.5" fill="#000">MCD</text>
<path d="M1643 451.3H1788" stroke="#f00" stroke-width="3" fill="none"/>
<rect x="1704.0" y="439.6" width="23.4" height="23.4" stroke="#f00" stroke-width="3.6" fill="none"/>
<text x="1798" y="468.8" font-size="43.5" fill="#000">MPRP</text>
<path d="M1643 510.7H1788" stroke="#f00" stroke-width="3" fill="none"/>
<path d="M1705.7 494.2L1734.3 510.7L1705.7 527.2Z" stroke="#f00" stroke-width="3.6" fill="none" stroke-linejoin="miter"/>
<text x="1798" y="528.2" font-size="43.5" fill="#000">NTTCG</text>
<path d="M1643 570.5H1788" stroke="#00f" stroke-width="3" fill="none"/>
<rect x="1704.0" y="558.8" width="23.4" height="23.4" stroke="#00f" stroke-width="3.6" fill="none"/>
<text x="1798" y="588.0" font-size="43.5" fill="#000">IHCG</text>
</svg>
</body></html>
